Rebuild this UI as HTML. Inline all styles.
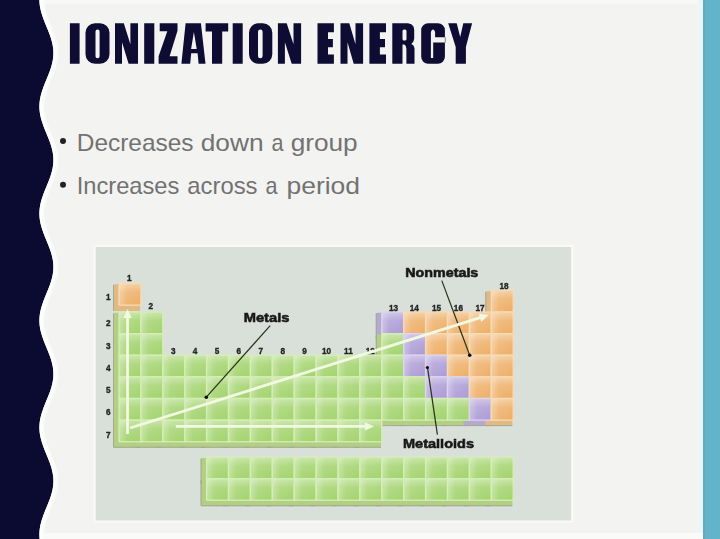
<!DOCTYPE html>
<html><head><meta charset="utf-8">
<style>
html,body{margin:0;padding:0;}
body{width:720px;height:539px;overflow:hidden;background:#f3f3f1;position:relative;}
svg{position:absolute;left:0;top:0;}
.t{font-family:"Liberation Sans",sans-serif;}
</style></head><body>
<svg width="720" height="539" viewBox="0 0 720 539">
<defs>
<filter id="soft" x="-5%" y="-5%" width="110%" height="110%"><feGaussianBlur stdDeviation="0.55"/></filter>
<linearGradient id="hly" x1="0" y1="0" x2="0" y2="1">
<stop offset="0" stop-color="#fff" stop-opacity="0.42"/><stop offset="0.4" stop-color="#fff" stop-opacity="0.12"/><stop offset="1" stop-color="#fff" stop-opacity="0"/>
</linearGradient>
<linearGradient id="hlx" x1="0" y1="0" x2="1" y2="0">
<stop offset="0" stop-color="#fff" stop-opacity="0.35"/><stop offset="0.35" stop-color="#fff" stop-opacity="0.08"/><stop offset="1" stop-color="#fff" stop-opacity="0"/>
</linearGradient>
<linearGradient id="gg" x1="0" y1="0" x2="0" y2="1">
<stop offset="0" stop-color="#9acb62"/><stop offset="0.55" stop-color="#c6e4a2"/><stop offset="1" stop-color="#a9d579"/>
</linearGradient>
<linearGradient id="go" x1="0" y1="0" x2="0" y2="1">
<stop offset="0" stop-color="#eaaa5e"/><stop offset="0.55" stop-color="#f6d2a2"/><stop offset="1" stop-color="#eeb774"/>
</linearGradient>
<linearGradient id="gp" x1="0" y1="0" x2="0" y2="1">
<stop offset="0" stop-color="#a896cc"/><stop offset="0.55" stop-color="#d2c8e6"/><stop offset="1" stop-color="#b2a4d4"/>
</linearGradient>
</defs>
<rect x="698.5" y="0" width="4.5" height="539" fill="#e9f7fa"/>
<rect x="0" y="533" width="720" height="6" fill="#fafaf8"/>
<rect x="0" y="0" width="697" height="4" fill="#f8f8f6"/>
<rect x="703" y="0" width="17" height="539" fill="#62b4ca"/>
<rect x="703" y="0" width="2" height="539" fill="#69a9b6"/>
<path d="M41.95,0.00 L41.96,0.50 L41.98,1.00 L42.00,1.50 L42.03,2.00 L42.06,2.50 L42.10,3.00 L42.14,3.50 L42.19,4.00 L42.25,4.50 L42.31,5.00 L42.38,5.50 L42.45,6.00 L42.53,6.50 L42.62,7.00 L42.71,7.50 L42.80,8.00 L42.91,8.50 L43.01,9.00 L43.12,9.50 L43.24,10.00 L43.36,10.50 L43.49,11.00 L43.62,11.50 L43.75,12.00 L43.89,12.50 L44.04,13.00 L44.19,13.50 L44.34,14.00 L44.49,14.50 L44.65,15.00 L44.82,15.50 L44.99,16.00 L45.16,16.50 L45.33,17.00 L45.51,17.50 L45.69,18.00 L45.87,18.50 L46.06,19.00 L46.25,19.50 L46.44,20.00 L46.63,20.50 L46.83,21.00 L47.02,21.50 L47.22,22.00 L47.42,22.50 L47.62,23.00 L47.82,23.50 L48.03,24.00 L48.23,24.50 L48.44,25.00 L48.64,25.50 L48.85,26.00 L49.05,26.50 L49.26,27.00 L49.46,27.50 L49.67,28.00 L49.87,28.50 L50.08,29.00 L50.28,29.50 L50.48,30.00 L50.68,30.50 L50.88,31.00 L51.07,31.50 L51.27,32.00 L51.46,32.50 L51.65,33.00 L51.84,33.50 L52.03,34.00 L52.21,34.50 L52.39,35.00 L52.57,35.50 L52.74,36.00 L52.91,36.50 L53.08,37.00 L53.25,37.50 L53.41,38.00 L53.56,38.50 L53.71,39.00 L53.86,39.50 L54.01,40.00 L54.15,40.50 L54.28,41.00 L54.41,41.50 L54.54,42.00 L54.66,42.50 L54.78,43.00 L54.89,43.50 L54.99,44.00 L55.10,44.50 L55.19,45.00 L55.28,45.50 L55.37,46.00 L55.45,46.50 L55.52,47.00 L55.59,47.50 L55.65,48.00 L55.71,48.50 L55.76,49.00 L55.80,49.50 L55.84,50.00 L55.87,50.50 L55.90,51.00 L55.92,51.50 L55.94,52.00 L55.95,52.50 L55.95,53.00 L55.95,53.50 L55.94,54.00 L55.92,54.50 L55.90,55.00 L55.87,55.50 L55.84,56.00 L55.80,56.50 L55.76,57.00 L55.71,57.50 L55.65,58.00 L55.59,58.50 L55.52,59.00 L55.45,59.50 L55.37,60.00 L55.28,60.50 L55.19,61.00 L55.10,61.50 L54.99,62.00 L54.89,62.50 L54.78,63.00 L54.66,63.50 L54.54,64.00 L54.41,64.50 L54.28,65.00 L54.15,65.50 L54.01,66.00 L53.86,66.50 L53.71,67.00 L53.56,67.50 L53.41,68.00 L53.25,68.50 L53.08,69.00 L52.91,69.50 L52.74,70.00 L52.57,70.50 L52.39,71.00 L52.21,71.50 L52.03,72.00 L51.84,72.50 L51.65,73.00 L51.46,73.50 L51.27,74.00 L51.07,74.50 L50.88,75.00 L50.68,75.50 L50.48,76.00 L50.28,76.50 L50.08,77.00 L49.87,77.50 L49.67,78.00 L49.46,78.50 L49.26,79.00 L49.05,79.50 L48.85,80.00 L48.64,80.50 L48.44,81.00 L48.23,81.50 L48.03,82.00 L47.82,82.50 L47.62,83.00 L47.42,83.50 L47.22,84.00 L47.02,84.50 L46.83,85.00 L46.63,85.50 L46.44,86.00 L46.25,86.50 L46.06,87.00 L45.87,87.50 L45.69,88.00 L45.51,88.50 L45.33,89.00 L45.16,89.50 L44.99,90.00 L44.82,90.50 L44.65,91.00 L44.49,91.50 L44.34,92.00 L44.19,92.50 L44.04,93.00 L43.89,93.50 L43.75,94.00 L43.62,94.50 L43.49,95.00 L43.36,95.50 L43.24,96.00 L43.12,96.50 L43.01,97.00 L42.91,97.50 L42.80,98.00 L42.71,98.50 L42.62,99.00 L42.53,99.50 L42.45,100.00 L42.38,100.50 L42.31,101.00 L42.25,101.50 L42.19,102.00 L42.14,102.50 L42.10,103.00 L42.06,103.50 L42.03,104.00 L42.00,104.50 L41.98,105.00 L41.96,105.50 L41.95,106.00 L41.95,106.50 L41.95,107.00 L41.96,107.50 L41.98,108.00 L42.00,108.50 L42.03,109.00 L42.06,109.50 L42.10,110.00 L42.14,110.50 L42.19,111.00 L42.25,111.50 L42.31,112.00 L42.38,112.50 L42.45,113.00 L42.53,113.50 L42.62,114.00 L42.71,114.50 L42.80,115.00 L42.91,115.50 L43.01,116.00 L43.12,116.50 L43.24,117.00 L43.36,117.50 L43.49,118.00 L43.62,118.50 L43.75,119.00 L43.89,119.50 L44.04,120.00 L44.19,120.50 L44.34,121.00 L44.49,121.50 L44.65,122.00 L44.82,122.50 L44.99,123.00 L45.16,123.50 L45.33,124.00 L45.51,124.50 L45.69,125.00 L45.87,125.50 L46.06,126.00 L46.25,126.50 L46.44,127.00 L46.63,127.50 L46.83,128.00 L47.02,128.50 L47.22,129.00 L47.42,129.50 L47.62,130.00 L47.82,130.50 L48.03,131.00 L48.23,131.50 L48.44,132.00 L48.64,132.50 L48.85,133.00 L49.05,133.50 L49.26,134.00 L49.46,134.50 L49.67,135.00 L49.87,135.50 L50.08,136.00 L50.28,136.50 L50.48,137.00 L50.68,137.50 L50.88,138.00 L51.07,138.50 L51.27,139.00 L51.46,139.50 L51.65,140.00 L51.84,140.50 L52.03,141.00 L52.21,141.50 L52.39,142.00 L52.57,142.50 L52.74,143.00 L52.91,143.50 L53.08,144.00 L53.25,144.50 L53.41,145.00 L53.56,145.50 L53.71,146.00 L53.86,146.50 L54.01,147.00 L54.15,147.50 L54.28,148.00 L54.41,148.50 L54.54,149.00 L54.66,149.50 L54.78,150.00 L54.89,150.50 L54.99,151.00 L55.10,151.50 L55.19,152.00 L55.28,152.50 L55.37,153.00 L55.45,153.50 L55.52,154.00 L55.59,154.50 L55.65,155.00 L55.71,155.50 L55.76,156.00 L55.80,156.50 L55.84,157.00 L55.87,157.50 L55.90,158.00 L55.92,158.50 L55.94,159.00 L55.95,159.50 L55.95,160.00 L55.95,160.50 L55.94,161.00 L55.92,161.50 L55.90,162.00 L55.87,162.50 L55.84,163.00 L55.80,163.50 L55.76,164.00 L55.71,164.50 L55.65,165.00 L55.59,165.50 L55.52,166.00 L55.45,166.50 L55.37,167.00 L55.28,167.50 L55.19,168.00 L55.10,168.50 L54.99,169.00 L54.89,169.50 L54.78,170.00 L54.66,170.50 L54.54,171.00 L54.41,171.50 L54.28,172.00 L54.15,172.50 L54.01,173.00 L53.86,173.50 L53.71,174.00 L53.56,174.50 L53.41,175.00 L53.25,175.50 L53.08,176.00 L52.91,176.50 L52.74,177.00 L52.57,177.50 L52.39,178.00 L52.21,178.50 L52.03,179.00 L51.84,179.50 L51.65,180.00 L51.46,180.50 L51.27,181.00 L51.07,181.50 L50.88,182.00 L50.68,182.50 L50.48,183.00 L50.28,183.50 L50.08,184.00 L49.87,184.50 L49.67,185.00 L49.46,185.50 L49.26,186.00 L49.05,186.50 L48.85,187.00 L48.64,187.50 L48.44,188.00 L48.23,188.50 L48.03,189.00 L47.82,189.50 L47.62,190.00 L47.42,190.50 L47.22,191.00 L47.02,191.50 L46.83,192.00 L46.63,192.50 L46.44,193.00 L46.25,193.50 L46.06,194.00 L45.87,194.50 L45.69,195.00 L45.51,195.50 L45.33,196.00 L45.16,196.50 L44.99,197.00 L44.82,197.50 L44.65,198.00 L44.49,198.50 L44.34,199.00 L44.19,199.50 L44.04,200.00 L43.89,200.50 L43.75,201.00 L43.62,201.50 L43.49,202.00 L43.36,202.50 L43.24,203.00 L43.12,203.50 L43.01,204.00 L42.91,204.50 L42.80,205.00 L42.71,205.50 L42.62,206.00 L42.53,206.50 L42.45,207.00 L42.38,207.50 L42.31,208.00 L42.25,208.50 L42.19,209.00 L42.14,209.50 L42.10,210.00 L42.06,210.50 L42.03,211.00 L42.00,211.50 L41.98,212.00 L41.96,212.50 L41.95,213.00 L41.95,213.50 L41.95,214.00 L41.96,214.50 L41.98,215.00 L42.00,215.50 L42.03,216.00 L42.06,216.50 L42.10,217.00 L42.14,217.50 L42.19,218.00 L42.25,218.50 L42.31,219.00 L42.38,219.50 L42.45,220.00 L42.53,220.50 L42.62,221.00 L42.71,221.50 L42.80,222.00 L42.91,222.50 L43.01,223.00 L43.12,223.50 L43.24,224.00 L43.36,224.50 L43.49,225.00 L43.62,225.50 L43.75,226.00 L43.89,226.50 L44.04,227.00 L44.19,227.50 L44.34,228.00 L44.49,228.50 L44.65,229.00 L44.82,229.50 L44.99,230.00 L45.16,230.50 L45.33,231.00 L45.51,231.50 L45.69,232.00 L45.87,232.50 L46.06,233.00 L46.25,233.50 L46.44,234.00 L46.63,234.50 L46.83,235.00 L47.02,235.50 L47.22,236.00 L47.42,236.50 L47.62,237.00 L47.82,237.50 L48.03,238.00 L48.23,238.50 L48.44,239.00 L48.64,239.50 L48.85,240.00 L49.05,240.50 L49.26,241.00 L49.46,241.50 L49.67,242.00 L49.87,242.50 L50.08,243.00 L50.28,243.50 L50.48,244.00 L50.68,244.50 L50.88,245.00 L51.07,245.50 L51.27,246.00 L51.46,246.50 L51.65,247.00 L51.84,247.50 L52.03,248.00 L52.21,248.50 L52.39,249.00 L52.57,249.50 L52.74,250.00 L52.91,250.50 L53.08,251.00 L53.25,251.50 L53.41,252.00 L53.56,252.50 L53.71,253.00 L53.86,253.50 L54.01,254.00 L54.15,254.50 L54.28,255.00 L54.41,255.50 L54.54,256.00 L54.66,256.50 L54.78,257.00 L54.89,257.50 L54.99,258.00 L55.10,258.50 L55.19,259.00 L55.28,259.50 L55.37,260.00 L55.45,260.50 L55.52,261.00 L55.59,261.50 L55.65,262.00 L55.71,262.50 L55.76,263.00 L55.80,263.50 L55.84,264.00 L55.87,264.50 L55.90,265.00 L55.92,265.50 L55.94,266.00 L55.95,266.50 L55.95,267.00 L55.95,267.50 L55.94,268.00 L55.92,268.50 L55.90,269.00 L55.87,269.50 L55.84,270.00 L55.80,270.50 L55.76,271.00 L55.71,271.50 L55.65,272.00 L55.59,272.50 L55.52,273.00 L55.45,273.50 L55.37,274.00 L55.28,274.50 L55.19,275.00 L55.10,275.50 L54.99,276.00 L54.89,276.50 L54.78,277.00 L54.66,277.50 L54.54,278.00 L54.41,278.50 L54.28,279.00 L54.15,279.50 L54.01,280.00 L53.86,280.50 L53.71,281.00 L53.56,281.50 L53.41,282.00 L53.25,282.50 L53.08,283.00 L52.91,283.50 L52.74,284.00 L52.57,284.50 L52.39,285.00 L52.21,285.50 L52.03,286.00 L51.84,286.50 L51.65,287.00 L51.46,287.50 L51.27,288.00 L51.07,288.50 L50.88,289.00 L50.68,289.50 L50.48,290.00 L50.28,290.50 L50.08,291.00 L49.87,291.50 L49.67,292.00 L49.46,292.50 L49.26,293.00 L49.05,293.50 L48.85,294.00 L48.64,294.50 L48.44,295.00 L48.23,295.50 L48.03,296.00 L47.82,296.50 L47.62,297.00 L47.42,297.50 L47.22,298.00 L47.02,298.50 L46.83,299.00 L46.63,299.50 L46.44,300.00 L46.25,300.50 L46.06,301.00 L45.87,301.50 L45.69,302.00 L45.51,302.50 L45.33,303.00 L45.16,303.50 L44.99,304.00 L44.82,304.50 L44.65,305.00 L44.49,305.50 L44.34,306.00 L44.19,306.50 L44.04,307.00 L43.89,307.50 L43.75,308.00 L43.62,308.50 L43.49,309.00 L43.36,309.50 L43.24,310.00 L43.12,310.50 L43.01,311.00 L42.91,311.50 L42.80,312.00 L42.71,312.50 L42.62,313.00 L42.53,313.50 L42.45,314.00 L42.38,314.50 L42.31,315.00 L42.25,315.50 L42.19,316.00 L42.14,316.50 L42.10,317.00 L42.06,317.50 L42.03,318.00 L42.00,318.50 L41.98,319.00 L41.96,319.50 L41.95,320.00 L41.95,320.50 L41.95,321.00 L41.96,321.50 L41.98,322.00 L42.00,322.50 L42.03,323.00 L42.06,323.50 L42.10,324.00 L42.14,324.50 L42.19,325.00 L42.25,325.50 L42.31,326.00 L42.38,326.50 L42.45,327.00 L42.53,327.50 L42.62,328.00 L42.71,328.50 L42.80,329.00 L42.91,329.50 L43.01,330.00 L43.12,330.50 L43.24,331.00 L43.36,331.50 L43.49,332.00 L43.62,332.50 L43.75,333.00 L43.89,333.50 L44.04,334.00 L44.19,334.50 L44.34,335.00 L44.49,335.50 L44.65,336.00 L44.82,336.50 L44.99,337.00 L45.16,337.50 L45.33,338.00 L45.51,338.50 L45.69,339.00 L45.87,339.50 L46.06,340.00 L46.25,340.50 L46.44,341.00 L46.63,341.50 L46.83,342.00 L47.02,342.50 L47.22,343.00 L47.42,343.50 L47.62,344.00 L47.82,344.50 L48.03,345.00 L48.23,345.50 L48.44,346.00 L48.64,346.50 L48.85,347.00 L49.05,347.50 L49.26,348.00 L49.46,348.50 L49.67,349.00 L49.87,349.50 L50.08,350.00 L50.28,350.50 L50.48,351.00 L50.68,351.50 L50.88,352.00 L51.07,352.50 L51.27,353.00 L51.46,353.50 L51.65,354.00 L51.84,354.50 L52.03,355.00 L52.21,355.50 L52.39,356.00 L52.57,356.50 L52.74,357.00 L52.91,357.50 L53.08,358.00 L53.25,358.50 L53.41,359.00 L53.56,359.50 L53.71,360.00 L53.86,360.50 L54.01,361.00 L54.15,361.50 L54.28,362.00 L54.41,362.50 L54.54,363.00 L54.66,363.50 L54.78,364.00 L54.89,364.50 L54.99,365.00 L55.10,365.50 L55.19,366.00 L55.28,366.50 L55.37,367.00 L55.45,367.50 L55.52,368.00 L55.59,368.50 L55.65,369.00 L55.71,369.50 L55.76,370.00 L55.80,370.50 L55.84,371.00 L55.87,371.50 L55.90,372.00 L55.92,372.50 L55.94,373.00 L55.95,373.50 L55.95,374.00 L55.95,374.50 L55.94,375.00 L55.92,375.50 L55.90,376.00 L55.87,376.50 L55.84,377.00 L55.80,377.50 L55.76,378.00 L55.71,378.50 L55.65,379.00 L55.59,379.50 L55.52,380.00 L55.45,380.50 L55.37,381.00 L55.28,381.50 L55.19,382.00 L55.10,382.50 L54.99,383.00 L54.89,383.50 L54.78,384.00 L54.66,384.50 L54.54,385.00 L54.41,385.50 L54.28,386.00 L54.15,386.50 L54.01,387.00 L53.86,387.50 L53.71,388.00 L53.56,388.50 L53.41,389.00 L53.25,389.50 L53.08,390.00 L52.91,390.50 L52.74,391.00 L52.57,391.50 L52.39,392.00 L52.21,392.50 L52.03,393.00 L51.84,393.50 L51.65,394.00 L51.46,394.50 L51.27,395.00 L51.07,395.50 L50.88,396.00 L50.68,396.50 L50.48,397.00 L50.28,397.50 L50.08,398.00 L49.87,398.50 L49.67,399.00 L49.46,399.50 L49.26,400.00 L49.05,400.50 L48.85,401.00 L48.64,401.50 L48.44,402.00 L48.23,402.50 L48.03,403.00 L47.82,403.50 L47.62,404.00 L47.42,404.50 L47.22,405.00 L47.02,405.50 L46.83,406.00 L46.63,406.50 L46.44,407.00 L46.25,407.50 L46.06,408.00 L45.87,408.50 L45.69,409.00 L45.51,409.50 L45.33,410.00 L45.16,410.50 L44.99,411.00 L44.82,411.50 L44.65,412.00 L44.49,412.50 L44.34,413.00 L44.19,413.50 L44.04,414.00 L43.89,414.50 L43.75,415.00 L43.62,415.50 L43.49,416.00 L43.36,416.50 L43.24,417.00 L43.12,417.50 L43.01,418.00 L42.91,418.50 L42.80,419.00 L42.71,419.50 L42.62,420.00 L42.53,420.50 L42.45,421.00 L42.38,421.50 L42.31,422.00 L42.25,422.50 L42.19,423.00 L42.14,423.50 L42.10,424.00 L42.06,424.50 L42.03,425.00 L42.00,425.50 L41.98,426.00 L41.96,426.50 L41.95,427.00 L41.95,427.50 L41.95,428.00 L41.96,428.50 L41.98,429.00 L42.00,429.50 L42.03,430.00 L42.06,430.50 L42.10,431.00 L42.14,431.50 L42.19,432.00 L42.25,432.50 L42.31,433.00 L42.38,433.50 L42.45,434.00 L42.53,434.50 L42.62,435.00 L42.71,435.50 L42.80,436.00 L42.91,436.50 L43.01,437.00 L43.12,437.50 L43.24,438.00 L43.36,438.50 L43.49,439.00 L43.62,439.50 L43.75,440.00 L43.89,440.50 L44.04,441.00 L44.19,441.50 L44.34,442.00 L44.49,442.50 L44.65,443.00 L44.82,443.50 L44.99,444.00 L45.16,444.50 L45.33,445.00 L45.51,445.50 L45.69,446.00 L45.87,446.50 L46.06,447.00 L46.25,447.50 L46.44,448.00 L46.63,448.50 L46.83,449.00 L47.02,449.50 L47.22,450.00 L47.42,450.50 L47.62,451.00 L47.82,451.50 L48.03,452.00 L48.23,452.50 L48.44,453.00 L48.64,453.50 L48.85,454.00 L49.05,454.50 L49.26,455.00 L49.46,455.50 L49.67,456.00 L49.87,456.50 L50.08,457.00 L50.28,457.50 L50.48,458.00 L50.68,458.50 L50.88,459.00 L51.07,459.50 L51.27,460.00 L51.46,460.50 L51.65,461.00 L51.84,461.50 L52.03,462.00 L52.21,462.50 L52.39,463.00 L52.57,463.50 L52.74,464.00 L52.91,464.50 L53.08,465.00 L53.25,465.50 L53.41,466.00 L53.56,466.50 L53.71,467.00 L53.86,467.50 L54.01,468.00 L54.15,468.50 L54.28,469.00 L54.41,469.50 L54.54,470.00 L54.66,470.50 L54.78,471.00 L54.89,471.50 L54.99,472.00 L55.10,472.50 L55.19,473.00 L55.28,473.50 L55.37,474.00 L55.45,474.50 L55.52,475.00 L55.59,475.50 L55.65,476.00 L55.71,476.50 L55.76,477.00 L55.80,477.50 L55.84,478.00 L55.87,478.50 L55.90,479.00 L55.92,479.50 L55.94,480.00 L55.95,480.50 L55.95,481.00 L55.95,481.50 L55.94,482.00 L55.92,482.50 L55.90,483.00 L55.87,483.50 L55.84,484.00 L55.80,484.50 L55.76,485.00 L55.71,485.50 L55.65,486.00 L55.59,486.50 L55.52,487.00 L55.45,487.50 L55.37,488.00 L55.28,488.50 L55.19,489.00 L55.10,489.50 L54.99,490.00 L54.89,490.50 L54.78,491.00 L54.66,491.50 L54.54,492.00 L54.41,492.50 L54.28,493.00 L54.15,493.50 L54.01,494.00 L53.86,494.50 L53.71,495.00 L53.56,495.50 L53.41,496.00 L53.25,496.50 L53.08,497.00 L52.91,497.50 L52.74,498.00 L52.57,498.50 L52.39,499.00 L52.21,499.50 L52.03,500.00 L51.84,500.50 L51.65,501.00 L51.46,501.50 L51.27,502.00 L51.07,502.50 L50.88,503.00 L50.68,503.50 L50.48,504.00 L50.28,504.50 L50.08,505.00 L49.87,505.50 L49.67,506.00 L49.46,506.50 L49.26,507.00 L49.05,507.50 L48.85,508.00 L48.64,508.50 L48.44,509.00 L48.23,509.50 L48.03,510.00 L47.82,510.50 L47.62,511.00 L47.42,511.50 L47.22,512.00 L47.02,512.50 L46.83,513.00 L46.63,513.50 L46.44,514.00 L46.25,514.50 L46.06,515.00 L45.87,515.50 L45.69,516.00 L45.51,516.50 L45.33,517.00 L45.16,517.50 L44.99,518.00 L44.82,518.50 L44.65,519.00 L44.49,519.50 L44.34,520.00 L44.19,520.50 L44.04,521.00 L43.89,521.50 L43.75,522.00 L43.62,522.50 L43.49,523.00 L43.36,523.50 L43.24,524.00 L43.12,524.50 L43.01,525.00 L42.91,525.50 L42.80,526.00 L42.71,526.50 L42.62,527.00 L42.53,527.50 L42.45,528.00 L42.38,528.50 L42.31,529.00 L42.25,529.50 L42.19,530.00 L42.14,530.50 L42.10,531.00 L42.06,531.50 L42.03,532.00 L42.00,532.50 L41.98,533.00 L41.96,533.50 L41.95,534.00 L41.95,534.50 L41.95,535.00 L41.96,535.50 L41.98,536.00 L42.00,536.50 L42.03,537.00 L42.06,537.50 L42.10,538.00 L42.14,538.50 L42.19,539.00" fill="none" stroke="#fbfcfd" stroke-width="4.5" opacity="0.8"/>
<path d="M0,0 L39.35,0.00 L39.36,0.50 L39.38,1.00 L39.40,1.50 L39.43,2.00 L39.46,2.50 L39.50,3.00 L39.54,3.50 L39.59,4.00 L39.65,4.50 L39.71,5.00 L39.78,5.50 L39.85,6.00 L39.93,6.50 L40.02,7.00 L40.11,7.50 L40.20,8.00 L40.31,8.50 L40.41,9.00 L40.52,9.50 L40.64,10.00 L40.76,10.50 L40.89,11.00 L41.02,11.50 L41.15,12.00 L41.29,12.50 L41.44,13.00 L41.59,13.50 L41.74,14.00 L41.89,14.50 L42.05,15.00 L42.22,15.50 L42.39,16.00 L42.56,16.50 L42.73,17.00 L42.91,17.50 L43.09,18.00 L43.27,18.50 L43.46,19.00 L43.65,19.50 L43.84,20.00 L44.03,20.50 L44.23,21.00 L44.42,21.50 L44.62,22.00 L44.82,22.50 L45.02,23.00 L45.22,23.50 L45.43,24.00 L45.63,24.50 L45.84,25.00 L46.04,25.50 L46.25,26.00 L46.45,26.50 L46.66,27.00 L46.86,27.50 L47.07,28.00 L47.27,28.50 L47.48,29.00 L47.68,29.50 L47.88,30.00 L48.08,30.50 L48.28,31.00 L48.47,31.50 L48.67,32.00 L48.86,32.50 L49.05,33.00 L49.24,33.50 L49.43,34.00 L49.61,34.50 L49.79,35.00 L49.97,35.50 L50.14,36.00 L50.31,36.50 L50.48,37.00 L50.65,37.50 L50.81,38.00 L50.96,38.50 L51.11,39.00 L51.26,39.50 L51.41,40.00 L51.55,40.50 L51.68,41.00 L51.81,41.50 L51.94,42.00 L52.06,42.50 L52.18,43.00 L52.29,43.50 L52.39,44.00 L52.50,44.50 L52.59,45.00 L52.68,45.50 L52.77,46.00 L52.85,46.50 L52.92,47.00 L52.99,47.50 L53.05,48.00 L53.11,48.50 L53.16,49.00 L53.20,49.50 L53.24,50.00 L53.27,50.50 L53.30,51.00 L53.32,51.50 L53.34,52.00 L53.35,52.50 L53.35,53.00 L53.35,53.50 L53.34,54.00 L53.32,54.50 L53.30,55.00 L53.27,55.50 L53.24,56.00 L53.20,56.50 L53.16,57.00 L53.11,57.50 L53.05,58.00 L52.99,58.50 L52.92,59.00 L52.85,59.50 L52.77,60.00 L52.68,60.50 L52.59,61.00 L52.50,61.50 L52.39,62.00 L52.29,62.50 L52.18,63.00 L52.06,63.50 L51.94,64.00 L51.81,64.50 L51.68,65.00 L51.55,65.50 L51.41,66.00 L51.26,66.50 L51.11,67.00 L50.96,67.50 L50.81,68.00 L50.65,68.50 L50.48,69.00 L50.31,69.50 L50.14,70.00 L49.97,70.50 L49.79,71.00 L49.61,71.50 L49.43,72.00 L49.24,72.50 L49.05,73.00 L48.86,73.50 L48.67,74.00 L48.47,74.50 L48.28,75.00 L48.08,75.50 L47.88,76.00 L47.68,76.50 L47.48,77.00 L47.27,77.50 L47.07,78.00 L46.86,78.50 L46.66,79.00 L46.45,79.50 L46.25,80.00 L46.04,80.50 L45.84,81.00 L45.63,81.50 L45.43,82.00 L45.22,82.50 L45.02,83.00 L44.82,83.50 L44.62,84.00 L44.42,84.50 L44.23,85.00 L44.03,85.50 L43.84,86.00 L43.65,86.50 L43.46,87.00 L43.27,87.50 L43.09,88.00 L42.91,88.50 L42.73,89.00 L42.56,89.50 L42.39,90.00 L42.22,90.50 L42.05,91.00 L41.89,91.50 L41.74,92.00 L41.59,92.50 L41.44,93.00 L41.29,93.50 L41.15,94.00 L41.02,94.50 L40.89,95.00 L40.76,95.50 L40.64,96.00 L40.52,96.50 L40.41,97.00 L40.31,97.50 L40.20,98.00 L40.11,98.50 L40.02,99.00 L39.93,99.50 L39.85,100.00 L39.78,100.50 L39.71,101.00 L39.65,101.50 L39.59,102.00 L39.54,102.50 L39.50,103.00 L39.46,103.50 L39.43,104.00 L39.40,104.50 L39.38,105.00 L39.36,105.50 L39.35,106.00 L39.35,106.50 L39.35,107.00 L39.36,107.50 L39.38,108.00 L39.40,108.50 L39.43,109.00 L39.46,109.50 L39.50,110.00 L39.54,110.50 L39.59,111.00 L39.65,111.50 L39.71,112.00 L39.78,112.50 L39.85,113.00 L39.93,113.50 L40.02,114.00 L40.11,114.50 L40.20,115.00 L40.31,115.50 L40.41,116.00 L40.52,116.50 L40.64,117.00 L40.76,117.50 L40.89,118.00 L41.02,118.50 L41.15,119.00 L41.29,119.50 L41.44,120.00 L41.59,120.50 L41.74,121.00 L41.89,121.50 L42.05,122.00 L42.22,122.50 L42.39,123.00 L42.56,123.50 L42.73,124.00 L42.91,124.50 L43.09,125.00 L43.27,125.50 L43.46,126.00 L43.65,126.50 L43.84,127.00 L44.03,127.50 L44.23,128.00 L44.42,128.50 L44.62,129.00 L44.82,129.50 L45.02,130.00 L45.22,130.50 L45.43,131.00 L45.63,131.50 L45.84,132.00 L46.04,132.50 L46.25,133.00 L46.45,133.50 L46.66,134.00 L46.86,134.50 L47.07,135.00 L47.27,135.50 L47.48,136.00 L47.68,136.50 L47.88,137.00 L48.08,137.50 L48.28,138.00 L48.47,138.50 L48.67,139.00 L48.86,139.50 L49.05,140.00 L49.24,140.50 L49.43,141.00 L49.61,141.50 L49.79,142.00 L49.97,142.50 L50.14,143.00 L50.31,143.50 L50.48,144.00 L50.65,144.50 L50.81,145.00 L50.96,145.50 L51.11,146.00 L51.26,146.50 L51.41,147.00 L51.55,147.50 L51.68,148.00 L51.81,148.50 L51.94,149.00 L52.06,149.50 L52.18,150.00 L52.29,150.50 L52.39,151.00 L52.50,151.50 L52.59,152.00 L52.68,152.50 L52.77,153.00 L52.85,153.50 L52.92,154.00 L52.99,154.50 L53.05,155.00 L53.11,155.50 L53.16,156.00 L53.20,156.50 L53.24,157.00 L53.27,157.50 L53.30,158.00 L53.32,158.50 L53.34,159.00 L53.35,159.50 L53.35,160.00 L53.35,160.50 L53.34,161.00 L53.32,161.50 L53.30,162.00 L53.27,162.50 L53.24,163.00 L53.20,163.50 L53.16,164.00 L53.11,164.50 L53.05,165.00 L52.99,165.50 L52.92,166.00 L52.85,166.50 L52.77,167.00 L52.68,167.50 L52.59,168.00 L52.50,168.50 L52.39,169.00 L52.29,169.50 L52.18,170.00 L52.06,170.50 L51.94,171.00 L51.81,171.50 L51.68,172.00 L51.55,172.50 L51.41,173.00 L51.26,173.50 L51.11,174.00 L50.96,174.50 L50.81,175.00 L50.65,175.50 L50.48,176.00 L50.31,176.50 L50.14,177.00 L49.97,177.50 L49.79,178.00 L49.61,178.50 L49.43,179.00 L49.24,179.50 L49.05,180.00 L48.86,180.50 L48.67,181.00 L48.47,181.50 L48.28,182.00 L48.08,182.50 L47.88,183.00 L47.68,183.50 L47.48,184.00 L47.27,184.50 L47.07,185.00 L46.86,185.50 L46.66,186.00 L46.45,186.50 L46.25,187.00 L46.04,187.50 L45.84,188.00 L45.63,188.50 L45.43,189.00 L45.22,189.50 L45.02,190.00 L44.82,190.50 L44.62,191.00 L44.42,191.50 L44.23,192.00 L44.03,192.50 L43.84,193.00 L43.65,193.50 L43.46,194.00 L43.27,194.50 L43.09,195.00 L42.91,195.50 L42.73,196.00 L42.56,196.50 L42.39,197.00 L42.22,197.50 L42.05,198.00 L41.89,198.50 L41.74,199.00 L41.59,199.50 L41.44,200.00 L41.29,200.50 L41.15,201.00 L41.02,201.50 L40.89,202.00 L40.76,202.50 L40.64,203.00 L40.52,203.50 L40.41,204.00 L40.31,204.50 L40.20,205.00 L40.11,205.50 L40.02,206.00 L39.93,206.50 L39.85,207.00 L39.78,207.50 L39.71,208.00 L39.65,208.50 L39.59,209.00 L39.54,209.50 L39.50,210.00 L39.46,210.50 L39.43,211.00 L39.40,211.50 L39.38,212.00 L39.36,212.50 L39.35,213.00 L39.35,213.50 L39.35,214.00 L39.36,214.50 L39.38,215.00 L39.40,215.50 L39.43,216.00 L39.46,216.50 L39.50,217.00 L39.54,217.50 L39.59,218.00 L39.65,218.50 L39.71,219.00 L39.78,219.50 L39.85,220.00 L39.93,220.50 L40.02,221.00 L40.11,221.50 L40.20,222.00 L40.31,222.50 L40.41,223.00 L40.52,223.50 L40.64,224.00 L40.76,224.50 L40.89,225.00 L41.02,225.50 L41.15,226.00 L41.29,226.50 L41.44,227.00 L41.59,227.50 L41.74,228.00 L41.89,228.50 L42.05,229.00 L42.22,229.50 L42.39,230.00 L42.56,230.50 L42.73,231.00 L42.91,231.50 L43.09,232.00 L43.27,232.50 L43.46,233.00 L43.65,233.50 L43.84,234.00 L44.03,234.50 L44.23,235.00 L44.42,235.50 L44.62,236.00 L44.82,236.50 L45.02,237.00 L45.22,237.50 L45.43,238.00 L45.63,238.50 L45.84,239.00 L46.04,239.50 L46.25,240.00 L46.45,240.50 L46.66,241.00 L46.86,241.50 L47.07,242.00 L47.27,242.50 L47.48,243.00 L47.68,243.50 L47.88,244.00 L48.08,244.50 L48.28,245.00 L48.47,245.50 L48.67,246.00 L48.86,246.50 L49.05,247.00 L49.24,247.50 L49.43,248.00 L49.61,248.50 L49.79,249.00 L49.97,249.50 L50.14,250.00 L50.31,250.50 L50.48,251.00 L50.65,251.50 L50.81,252.00 L50.96,252.50 L51.11,253.00 L51.26,253.50 L51.41,254.00 L51.55,254.50 L51.68,255.00 L51.81,255.50 L51.94,256.00 L52.06,256.50 L52.18,257.00 L52.29,257.50 L52.39,258.00 L52.50,258.50 L52.59,259.00 L52.68,259.50 L52.77,260.00 L52.85,260.50 L52.92,261.00 L52.99,261.50 L53.05,262.00 L53.11,262.50 L53.16,263.00 L53.20,263.50 L53.24,264.00 L53.27,264.50 L53.30,265.00 L53.32,265.50 L53.34,266.00 L53.35,266.50 L53.35,267.00 L53.35,267.50 L53.34,268.00 L53.32,268.50 L53.30,269.00 L53.27,269.50 L53.24,270.00 L53.20,270.50 L53.16,271.00 L53.11,271.50 L53.05,272.00 L52.99,272.50 L52.92,273.00 L52.85,273.50 L52.77,274.00 L52.68,274.50 L52.59,275.00 L52.50,275.50 L52.39,276.00 L52.29,276.50 L52.18,277.00 L52.06,277.50 L51.94,278.00 L51.81,278.50 L51.68,279.00 L51.55,279.50 L51.41,280.00 L51.26,280.50 L51.11,281.00 L50.96,281.50 L50.81,282.00 L50.65,282.50 L50.48,283.00 L50.31,283.50 L50.14,284.00 L49.97,284.50 L49.79,285.00 L49.61,285.50 L49.43,286.00 L49.24,286.50 L49.05,287.00 L48.86,287.50 L48.67,288.00 L48.47,288.50 L48.28,289.00 L48.08,289.50 L47.88,290.00 L47.68,290.50 L47.48,291.00 L47.27,291.50 L47.07,292.00 L46.86,292.50 L46.66,293.00 L46.45,293.50 L46.25,294.00 L46.04,294.50 L45.84,295.00 L45.63,295.50 L45.43,296.00 L45.22,296.50 L45.02,297.00 L44.82,297.50 L44.62,298.00 L44.42,298.50 L44.23,299.00 L44.03,299.50 L43.84,300.00 L43.65,300.50 L43.46,301.00 L43.27,301.50 L43.09,302.00 L42.91,302.50 L42.73,303.00 L42.56,303.50 L42.39,304.00 L42.22,304.50 L42.05,305.00 L41.89,305.50 L41.74,306.00 L41.59,306.50 L41.44,307.00 L41.29,307.50 L41.15,308.00 L41.02,308.50 L40.89,309.00 L40.76,309.50 L40.64,310.00 L40.52,310.50 L40.41,311.00 L40.31,311.50 L40.20,312.00 L40.11,312.50 L40.02,313.00 L39.93,313.50 L39.85,314.00 L39.78,314.50 L39.71,315.00 L39.65,315.50 L39.59,316.00 L39.54,316.50 L39.50,317.00 L39.46,317.50 L39.43,318.00 L39.40,318.50 L39.38,319.00 L39.36,319.50 L39.35,320.00 L39.35,320.50 L39.35,321.00 L39.36,321.50 L39.38,322.00 L39.40,322.50 L39.43,323.00 L39.46,323.50 L39.50,324.00 L39.54,324.50 L39.59,325.00 L39.65,325.50 L39.71,326.00 L39.78,326.50 L39.85,327.00 L39.93,327.50 L40.02,328.00 L40.11,328.50 L40.20,329.00 L40.31,329.50 L40.41,330.00 L40.52,330.50 L40.64,331.00 L40.76,331.50 L40.89,332.00 L41.02,332.50 L41.15,333.00 L41.29,333.50 L41.44,334.00 L41.59,334.50 L41.74,335.00 L41.89,335.50 L42.05,336.00 L42.22,336.50 L42.39,337.00 L42.56,337.50 L42.73,338.00 L42.91,338.50 L43.09,339.00 L43.27,339.50 L43.46,340.00 L43.65,340.50 L43.84,341.00 L44.03,341.50 L44.23,342.00 L44.42,342.50 L44.62,343.00 L44.82,343.50 L45.02,344.00 L45.22,344.50 L45.43,345.00 L45.63,345.50 L45.84,346.00 L46.04,346.50 L46.25,347.00 L46.45,347.50 L46.66,348.00 L46.86,348.50 L47.07,349.00 L47.27,349.50 L47.48,350.00 L47.68,350.50 L47.88,351.00 L48.08,351.50 L48.28,352.00 L48.47,352.50 L48.67,353.00 L48.86,353.50 L49.05,354.00 L49.24,354.50 L49.43,355.00 L49.61,355.50 L49.79,356.00 L49.97,356.50 L50.14,357.00 L50.31,357.50 L50.48,358.00 L50.65,358.50 L50.81,359.00 L50.96,359.50 L51.11,360.00 L51.26,360.50 L51.41,361.00 L51.55,361.50 L51.68,362.00 L51.81,362.50 L51.94,363.00 L52.06,363.50 L52.18,364.00 L52.29,364.50 L52.39,365.00 L52.50,365.50 L52.59,366.00 L52.68,366.50 L52.77,367.00 L52.85,367.50 L52.92,368.00 L52.99,368.50 L53.05,369.00 L53.11,369.50 L53.16,370.00 L53.20,370.50 L53.24,371.00 L53.27,371.50 L53.30,372.00 L53.32,372.50 L53.34,373.00 L53.35,373.50 L53.35,374.00 L53.35,374.50 L53.34,375.00 L53.32,375.50 L53.30,376.00 L53.27,376.50 L53.24,377.00 L53.20,377.50 L53.16,378.00 L53.11,378.50 L53.05,379.00 L52.99,379.50 L52.92,380.00 L52.85,380.50 L52.77,381.00 L52.68,381.50 L52.59,382.00 L52.50,382.50 L52.39,383.00 L52.29,383.50 L52.18,384.00 L52.06,384.50 L51.94,385.00 L51.81,385.50 L51.68,386.00 L51.55,386.50 L51.41,387.00 L51.26,387.50 L51.11,388.00 L50.96,388.50 L50.81,389.00 L50.65,389.50 L50.48,390.00 L50.31,390.50 L50.14,391.00 L49.97,391.50 L49.79,392.00 L49.61,392.50 L49.43,393.00 L49.24,393.50 L49.05,394.00 L48.86,394.50 L48.67,395.00 L48.47,395.50 L48.28,396.00 L48.08,396.50 L47.88,397.00 L47.68,397.50 L47.48,398.00 L47.27,398.50 L47.07,399.00 L46.86,399.50 L46.66,400.00 L46.45,400.50 L46.25,401.00 L46.04,401.50 L45.84,402.00 L45.63,402.50 L45.43,403.00 L45.22,403.50 L45.02,404.00 L44.82,404.50 L44.62,405.00 L44.42,405.50 L44.23,406.00 L44.03,406.50 L43.84,407.00 L43.65,407.50 L43.46,408.00 L43.27,408.50 L43.09,409.00 L42.91,409.50 L42.73,410.00 L42.56,410.50 L42.39,411.00 L42.22,411.50 L42.05,412.00 L41.89,412.50 L41.74,413.00 L41.59,413.50 L41.44,414.00 L41.29,414.50 L41.15,415.00 L41.02,415.50 L40.89,416.00 L40.76,416.50 L40.64,417.00 L40.52,417.50 L40.41,418.00 L40.31,418.50 L40.20,419.00 L40.11,419.50 L40.02,420.00 L39.93,420.50 L39.85,421.00 L39.78,421.50 L39.71,422.00 L39.65,422.50 L39.59,423.00 L39.54,423.50 L39.50,424.00 L39.46,424.50 L39.43,425.00 L39.40,425.50 L39.38,426.00 L39.36,426.50 L39.35,427.00 L39.35,427.50 L39.35,428.00 L39.36,428.50 L39.38,429.00 L39.40,429.50 L39.43,430.00 L39.46,430.50 L39.50,431.00 L39.54,431.50 L39.59,432.00 L39.65,432.50 L39.71,433.00 L39.78,433.50 L39.85,434.00 L39.93,434.50 L40.02,435.00 L40.11,435.50 L40.20,436.00 L40.31,436.50 L40.41,437.00 L40.52,437.50 L40.64,438.00 L40.76,438.50 L40.89,439.00 L41.02,439.50 L41.15,440.00 L41.29,440.50 L41.44,441.00 L41.59,441.50 L41.74,442.00 L41.89,442.50 L42.05,443.00 L42.22,443.50 L42.39,444.00 L42.56,444.50 L42.73,445.00 L42.91,445.50 L43.09,446.00 L43.27,446.50 L43.46,447.00 L43.65,447.50 L43.84,448.00 L44.03,448.50 L44.23,449.00 L44.42,449.50 L44.62,450.00 L44.82,450.50 L45.02,451.00 L45.22,451.50 L45.43,452.00 L45.63,452.50 L45.84,453.00 L46.04,453.50 L46.25,454.00 L46.45,454.50 L46.66,455.00 L46.86,455.50 L47.07,456.00 L47.27,456.50 L47.48,457.00 L47.68,457.50 L47.88,458.00 L48.08,458.50 L48.28,459.00 L48.47,459.50 L48.67,460.00 L48.86,460.50 L49.05,461.00 L49.24,461.50 L49.43,462.00 L49.61,462.50 L49.79,463.00 L49.97,463.50 L50.14,464.00 L50.31,464.50 L50.48,465.00 L50.65,465.50 L50.81,466.00 L50.96,466.50 L51.11,467.00 L51.26,467.50 L51.41,468.00 L51.55,468.50 L51.68,469.00 L51.81,469.50 L51.94,470.00 L52.06,470.50 L52.18,471.00 L52.29,471.50 L52.39,472.00 L52.50,472.50 L52.59,473.00 L52.68,473.50 L52.77,474.00 L52.85,474.50 L52.92,475.00 L52.99,475.50 L53.05,476.00 L53.11,476.50 L53.16,477.00 L53.20,477.50 L53.24,478.00 L53.27,478.50 L53.30,479.00 L53.32,479.50 L53.34,480.00 L53.35,480.50 L53.35,481.00 L53.35,481.50 L53.34,482.00 L53.32,482.50 L53.30,483.00 L53.27,483.50 L53.24,484.00 L53.20,484.50 L53.16,485.00 L53.11,485.50 L53.05,486.00 L52.99,486.50 L52.92,487.00 L52.85,487.50 L52.77,488.00 L52.68,488.50 L52.59,489.00 L52.50,489.50 L52.39,490.00 L52.29,490.50 L52.18,491.00 L52.06,491.50 L51.94,492.00 L51.81,492.50 L51.68,493.00 L51.55,493.50 L51.41,494.00 L51.26,494.50 L51.11,495.00 L50.96,495.50 L50.81,496.00 L50.65,496.50 L50.48,497.00 L50.31,497.50 L50.14,498.00 L49.97,498.50 L49.79,499.00 L49.61,499.50 L49.43,500.00 L49.24,500.50 L49.05,501.00 L48.86,501.50 L48.67,502.00 L48.47,502.50 L48.28,503.00 L48.08,503.50 L47.88,504.00 L47.68,504.50 L47.48,505.00 L47.27,505.50 L47.07,506.00 L46.86,506.50 L46.66,507.00 L46.45,507.50 L46.25,508.00 L46.04,508.50 L45.84,509.00 L45.63,509.50 L45.43,510.00 L45.22,510.50 L45.02,511.00 L44.82,511.50 L44.62,512.00 L44.42,512.50 L44.23,513.00 L44.03,513.50 L43.84,514.00 L43.65,514.50 L43.46,515.00 L43.27,515.50 L43.09,516.00 L42.91,516.50 L42.73,517.00 L42.56,517.50 L42.39,518.00 L42.22,518.50 L42.05,519.00 L41.89,519.50 L41.74,520.00 L41.59,520.50 L41.44,521.00 L41.29,521.50 L41.15,522.00 L41.02,522.50 L40.89,523.00 L40.76,523.50 L40.64,524.00 L40.52,524.50 L40.41,525.00 L40.31,525.50 L40.20,526.00 L40.11,526.50 L40.02,527.00 L39.93,527.50 L39.85,528.00 L39.78,528.50 L39.71,529.00 L39.65,529.50 L39.59,530.00 L39.54,530.50 L39.50,531.00 L39.46,531.50 L39.43,532.00 L39.40,532.50 L39.38,533.00 L39.36,533.50 L39.35,534.00 L39.35,534.50 L39.35,535.00 L39.36,535.50 L39.38,536.00 L39.40,536.50 L39.43,537.00 L39.46,537.50 L39.50,538.00 L39.54,538.50 L39.59,539.00 L0,539 Z" fill="#0b0a30"/>
<path d="M40.55,0.00 L40.56,0.50 L40.58,1.00 L40.60,1.50 L40.63,2.00 L40.66,2.50 L40.70,3.00 L40.74,3.50 L40.79,4.00 L40.85,4.50 L40.91,5.00 L40.98,5.50 L41.05,6.00 L41.13,6.50 L41.22,7.00 L41.31,7.50 L41.40,8.00 L41.51,8.50 L41.61,9.00 L41.72,9.50 L41.84,10.00 L41.96,10.50 L42.09,11.00 L42.22,11.50 L42.35,12.00 L42.49,12.50 L42.64,13.00 L42.79,13.50 L42.94,14.00 L43.09,14.50 L43.25,15.00 L43.42,15.50 L43.59,16.00 L43.76,16.50 L43.93,17.00 L44.11,17.50 L44.29,18.00 L44.47,18.50 L44.66,19.00 L44.85,19.50 L45.04,20.00 L45.23,20.50 L45.43,21.00 L45.62,21.50 L45.82,22.00 L46.02,22.50 L46.22,23.00 L46.42,23.50 L46.63,24.00 L46.83,24.50 L47.04,25.00 L47.24,25.50 L47.45,26.00 L47.65,26.50 L47.86,27.00 L48.06,27.50 L48.27,28.00 L48.47,28.50 L48.68,29.00 L48.88,29.50 L49.08,30.00 L49.28,30.50 L49.48,31.00 L49.67,31.50 L49.87,32.00 L50.06,32.50 L50.25,33.00 L50.44,33.50 L50.63,34.00 L50.81,34.50 L50.99,35.00 L51.17,35.50 L51.34,36.00 L51.51,36.50 L51.68,37.00 L51.85,37.50 L52.01,38.00 L52.16,38.50 L52.31,39.00 L52.46,39.50 L52.61,40.00 L52.75,40.50 L52.88,41.00 L53.01,41.50 L53.14,42.00 L53.26,42.50 L53.38,43.00 L53.49,43.50 L53.59,44.00 L53.70,44.50 L53.79,45.00 L53.88,45.50 L53.97,46.00 L54.05,46.50 L54.12,47.00 L54.19,47.50 L54.25,48.00 L54.31,48.50 L54.36,49.00 L54.40,49.50 L54.44,50.00 L54.47,50.50 L54.50,51.00 L54.52,51.50 L54.54,52.00 L54.55,52.50 L54.55,53.00 L54.55,53.50 L54.54,54.00 L54.52,54.50 L54.50,55.00 L54.47,55.50 L54.44,56.00 L54.40,56.50 L54.36,57.00 L54.31,57.50 L54.25,58.00 L54.19,58.50 L54.12,59.00 L54.05,59.50 L53.97,60.00 L53.88,60.50 L53.79,61.00 L53.70,61.50 L53.59,62.00 L53.49,62.50 L53.38,63.00 L53.26,63.50 L53.14,64.00 L53.01,64.50 L52.88,65.00 L52.75,65.50 L52.61,66.00 L52.46,66.50 L52.31,67.00 L52.16,67.50 L52.01,68.00 L51.85,68.50 L51.68,69.00 L51.51,69.50 L51.34,70.00 L51.17,70.50 L50.99,71.00 L50.81,71.50 L50.63,72.00 L50.44,72.50 L50.25,73.00 L50.06,73.50 L49.87,74.00 L49.67,74.50 L49.48,75.00 L49.28,75.50 L49.08,76.00 L48.88,76.50 L48.68,77.00 L48.47,77.50 L48.27,78.00 L48.06,78.50 L47.86,79.00 L47.65,79.50 L47.45,80.00 L47.24,80.50 L47.04,81.00 L46.83,81.50 L46.63,82.00 L46.42,82.50 L46.22,83.00 L46.02,83.50 L45.82,84.00 L45.62,84.50 L45.43,85.00 L45.23,85.50 L45.04,86.00 L44.85,86.50 L44.66,87.00 L44.47,87.50 L44.29,88.00 L44.11,88.50 L43.93,89.00 L43.76,89.50 L43.59,90.00 L43.42,90.50 L43.25,91.00 L43.09,91.50 L42.94,92.00 L42.79,92.50 L42.64,93.00 L42.49,93.50 L42.35,94.00 L42.22,94.50 L42.09,95.00 L41.96,95.50 L41.84,96.00 L41.72,96.50 L41.61,97.00 L41.51,97.50 L41.40,98.00 L41.31,98.50 L41.22,99.00 L41.13,99.50 L41.05,100.00 L40.98,100.50 L40.91,101.00 L40.85,101.50 L40.79,102.00 L40.74,102.50 L40.70,103.00 L40.66,103.50 L40.63,104.00 L40.60,104.50 L40.58,105.00 L40.56,105.50 L40.55,106.00 L40.55,106.50 L40.55,107.00 L40.56,107.50 L40.58,108.00 L40.60,108.50 L40.63,109.00 L40.66,109.50 L40.70,110.00 L40.74,110.50 L40.79,111.00 L40.85,111.50 L40.91,112.00 L40.98,112.50 L41.05,113.00 L41.13,113.50 L41.22,114.00 L41.31,114.50 L41.40,115.00 L41.51,115.50 L41.61,116.00 L41.72,116.50 L41.84,117.00 L41.96,117.50 L42.09,118.00 L42.22,118.50 L42.35,119.00 L42.49,119.50 L42.64,120.00 L42.79,120.50 L42.94,121.00 L43.09,121.50 L43.25,122.00 L43.42,122.50 L43.59,123.00 L43.76,123.50 L43.93,124.00 L44.11,124.50 L44.29,125.00 L44.47,125.50 L44.66,126.00 L44.85,126.50 L45.04,127.00 L45.23,127.50 L45.43,128.00 L45.62,128.50 L45.82,129.00 L46.02,129.50 L46.22,130.00 L46.42,130.50 L46.63,131.00 L46.83,131.50 L47.04,132.00 L47.24,132.50 L47.45,133.00 L47.65,133.50 L47.86,134.00 L48.06,134.50 L48.27,135.00 L48.47,135.50 L48.68,136.00 L48.88,136.50 L49.08,137.00 L49.28,137.50 L49.48,138.00 L49.67,138.50 L49.87,139.00 L50.06,139.50 L50.25,140.00 L50.44,140.50 L50.63,141.00 L50.81,141.50 L50.99,142.00 L51.17,142.50 L51.34,143.00 L51.51,143.50 L51.68,144.00 L51.85,144.50 L52.01,145.00 L52.16,145.50 L52.31,146.00 L52.46,146.50 L52.61,147.00 L52.75,147.50 L52.88,148.00 L53.01,148.50 L53.14,149.00 L53.26,149.50 L53.38,150.00 L53.49,150.50 L53.59,151.00 L53.70,151.50 L53.79,152.00 L53.88,152.50 L53.97,153.00 L54.05,153.50 L54.12,154.00 L54.19,154.50 L54.25,155.00 L54.31,155.50 L54.36,156.00 L54.40,156.50 L54.44,157.00 L54.47,157.50 L54.50,158.00 L54.52,158.50 L54.54,159.00 L54.55,159.50 L54.55,160.00 L54.55,160.50 L54.54,161.00 L54.52,161.50 L54.50,162.00 L54.47,162.50 L54.44,163.00 L54.40,163.50 L54.36,164.00 L54.31,164.50 L54.25,165.00 L54.19,165.50 L54.12,166.00 L54.05,166.50 L53.97,167.00 L53.88,167.50 L53.79,168.00 L53.70,168.50 L53.59,169.00 L53.49,169.50 L53.38,170.00 L53.26,170.50 L53.14,171.00 L53.01,171.50 L52.88,172.00 L52.75,172.50 L52.61,173.00 L52.46,173.50 L52.31,174.00 L52.16,174.50 L52.01,175.00 L51.85,175.50 L51.68,176.00 L51.51,176.50 L51.34,177.00 L51.17,177.50 L50.99,178.00 L50.81,178.50 L50.63,179.00 L50.44,179.50 L50.25,180.00 L50.06,180.50 L49.87,181.00 L49.67,181.50 L49.48,182.00 L49.28,182.50 L49.08,183.00 L48.88,183.50 L48.68,184.00 L48.47,184.50 L48.27,185.00 L48.06,185.50 L47.86,186.00 L47.65,186.50 L47.45,187.00 L47.24,187.50 L47.04,188.00 L46.83,188.50 L46.63,189.00 L46.42,189.50 L46.22,190.00 L46.02,190.50 L45.82,191.00 L45.62,191.50 L45.43,192.00 L45.23,192.50 L45.04,193.00 L44.85,193.50 L44.66,194.00 L44.47,194.50 L44.29,195.00 L44.11,195.50 L43.93,196.00 L43.76,196.50 L43.59,197.00 L43.42,197.50 L43.25,198.00 L43.09,198.50 L42.94,199.00 L42.79,199.50 L42.64,200.00 L42.49,200.50 L42.35,201.00 L42.22,201.50 L42.09,202.00 L41.96,202.50 L41.84,203.00 L41.72,203.50 L41.61,204.00 L41.51,204.50 L41.40,205.00 L41.31,205.50 L41.22,206.00 L41.13,206.50 L41.05,207.00 L40.98,207.50 L40.91,208.00 L40.85,208.50 L40.79,209.00 L40.74,209.50 L40.70,210.00 L40.66,210.50 L40.63,211.00 L40.60,211.50 L40.58,212.00 L40.56,212.50 L40.55,213.00 L40.55,213.50 L40.55,214.00 L40.56,214.50 L40.58,215.00 L40.60,215.50 L40.63,216.00 L40.66,216.50 L40.70,217.00 L40.74,217.50 L40.79,218.00 L40.85,218.50 L40.91,219.00 L40.98,219.50 L41.05,220.00 L41.13,220.50 L41.22,221.00 L41.31,221.50 L41.40,222.00 L41.51,222.50 L41.61,223.00 L41.72,223.50 L41.84,224.00 L41.96,224.50 L42.09,225.00 L42.22,225.50 L42.35,226.00 L42.49,226.50 L42.64,227.00 L42.79,227.50 L42.94,228.00 L43.09,228.50 L43.25,229.00 L43.42,229.50 L43.59,230.00 L43.76,230.50 L43.93,231.00 L44.11,231.50 L44.29,232.00 L44.47,232.50 L44.66,233.00 L44.85,233.50 L45.04,234.00 L45.23,234.50 L45.43,235.00 L45.62,235.50 L45.82,236.00 L46.02,236.50 L46.22,237.00 L46.42,237.50 L46.63,238.00 L46.83,238.50 L47.04,239.00 L47.24,239.50 L47.45,240.00 L47.65,240.50 L47.86,241.00 L48.06,241.50 L48.27,242.00 L48.47,242.50 L48.68,243.00 L48.88,243.50 L49.08,244.00 L49.28,244.50 L49.48,245.00 L49.67,245.50 L49.87,246.00 L50.06,246.50 L50.25,247.00 L50.44,247.50 L50.63,248.00 L50.81,248.50 L50.99,249.00 L51.17,249.50 L51.34,250.00 L51.51,250.50 L51.68,251.00 L51.85,251.50 L52.01,252.00 L52.16,252.50 L52.31,253.00 L52.46,253.50 L52.61,254.00 L52.75,254.50 L52.88,255.00 L53.01,255.50 L53.14,256.00 L53.26,256.50 L53.38,257.00 L53.49,257.50 L53.59,258.00 L53.70,258.50 L53.79,259.00 L53.88,259.50 L53.97,260.00 L54.05,260.50 L54.12,261.00 L54.19,261.50 L54.25,262.00 L54.31,262.50 L54.36,263.00 L54.40,263.50 L54.44,264.00 L54.47,264.50 L54.50,265.00 L54.52,265.50 L54.54,266.00 L54.55,266.50 L54.55,267.00 L54.55,267.50 L54.54,268.00 L54.52,268.50 L54.50,269.00 L54.47,269.50 L54.44,270.00 L54.40,270.50 L54.36,271.00 L54.31,271.50 L54.25,272.00 L54.19,272.50 L54.12,273.00 L54.05,273.50 L53.97,274.00 L53.88,274.50 L53.79,275.00 L53.70,275.50 L53.59,276.00 L53.49,276.50 L53.38,277.00 L53.26,277.50 L53.14,278.00 L53.01,278.50 L52.88,279.00 L52.75,279.50 L52.61,280.00 L52.46,280.50 L52.31,281.00 L52.16,281.50 L52.01,282.00 L51.85,282.50 L51.68,283.00 L51.51,283.50 L51.34,284.00 L51.17,284.50 L50.99,285.00 L50.81,285.50 L50.63,286.00 L50.44,286.50 L50.25,287.00 L50.06,287.50 L49.87,288.00 L49.67,288.50 L49.48,289.00 L49.28,289.50 L49.08,290.00 L48.88,290.50 L48.68,291.00 L48.47,291.50 L48.27,292.00 L48.06,292.50 L47.86,293.00 L47.65,293.50 L47.45,294.00 L47.24,294.50 L47.04,295.00 L46.83,295.50 L46.63,296.00 L46.42,296.50 L46.22,297.00 L46.02,297.50 L45.82,298.00 L45.62,298.50 L45.43,299.00 L45.23,299.50 L45.04,300.00 L44.85,300.50 L44.66,301.00 L44.47,301.50 L44.29,302.00 L44.11,302.50 L43.93,303.00 L43.76,303.50 L43.59,304.00 L43.42,304.50 L43.25,305.00 L43.09,305.50 L42.94,306.00 L42.79,306.50 L42.64,307.00 L42.49,307.50 L42.35,308.00 L42.22,308.50 L42.09,309.00 L41.96,309.50 L41.84,310.00 L41.72,310.50 L41.61,311.00 L41.51,311.50 L41.40,312.00 L41.31,312.50 L41.22,313.00 L41.13,313.50 L41.05,314.00 L40.98,314.50 L40.91,315.00 L40.85,315.50 L40.79,316.00 L40.74,316.50 L40.70,317.00 L40.66,317.50 L40.63,318.00 L40.60,318.50 L40.58,319.00 L40.56,319.50 L40.55,320.00 L40.55,320.50 L40.55,321.00 L40.56,321.50 L40.58,322.00 L40.60,322.50 L40.63,323.00 L40.66,323.50 L40.70,324.00 L40.74,324.50 L40.79,325.00 L40.85,325.50 L40.91,326.00 L40.98,326.50 L41.05,327.00 L41.13,327.50 L41.22,328.00 L41.31,328.50 L41.40,329.00 L41.51,329.50 L41.61,330.00 L41.72,330.50 L41.84,331.00 L41.96,331.50 L42.09,332.00 L42.22,332.50 L42.35,333.00 L42.49,333.50 L42.64,334.00 L42.79,334.50 L42.94,335.00 L43.09,335.50 L43.25,336.00 L43.42,336.50 L43.59,337.00 L43.76,337.50 L43.93,338.00 L44.11,338.50 L44.29,339.00 L44.47,339.50 L44.66,340.00 L44.85,340.50 L45.04,341.00 L45.23,341.50 L45.43,342.00 L45.62,342.50 L45.82,343.00 L46.02,343.50 L46.22,344.00 L46.42,344.50 L46.63,345.00 L46.83,345.50 L47.04,346.00 L47.24,346.50 L47.45,347.00 L47.65,347.50 L47.86,348.00 L48.06,348.50 L48.27,349.00 L48.47,349.50 L48.68,350.00 L48.88,350.50 L49.08,351.00 L49.28,351.50 L49.48,352.00 L49.67,352.50 L49.87,353.00 L50.06,353.50 L50.25,354.00 L50.44,354.50 L50.63,355.00 L50.81,355.50 L50.99,356.00 L51.17,356.50 L51.34,357.00 L51.51,357.50 L51.68,358.00 L51.85,358.50 L52.01,359.00 L52.16,359.50 L52.31,360.00 L52.46,360.50 L52.61,361.00 L52.75,361.50 L52.88,362.00 L53.01,362.50 L53.14,363.00 L53.26,363.50 L53.38,364.00 L53.49,364.50 L53.59,365.00 L53.70,365.50 L53.79,366.00 L53.88,366.50 L53.97,367.00 L54.05,367.50 L54.12,368.00 L54.19,368.50 L54.25,369.00 L54.31,369.50 L54.36,370.00 L54.40,370.50 L54.44,371.00 L54.47,371.50 L54.50,372.00 L54.52,372.50 L54.54,373.00 L54.55,373.50 L54.55,374.00 L54.55,374.50 L54.54,375.00 L54.52,375.50 L54.50,376.00 L54.47,376.50 L54.44,377.00 L54.40,377.50 L54.36,378.00 L54.31,378.50 L54.25,379.00 L54.19,379.50 L54.12,380.00 L54.05,380.50 L53.97,381.00 L53.88,381.50 L53.79,382.00 L53.70,382.50 L53.59,383.00 L53.49,383.50 L53.38,384.00 L53.26,384.50 L53.14,385.00 L53.01,385.50 L52.88,386.00 L52.75,386.50 L52.61,387.00 L52.46,387.50 L52.31,388.00 L52.16,388.50 L52.01,389.00 L51.85,389.50 L51.68,390.00 L51.51,390.50 L51.34,391.00 L51.17,391.50 L50.99,392.00 L50.81,392.50 L50.63,393.00 L50.44,393.50 L50.25,394.00 L50.06,394.50 L49.87,395.00 L49.67,395.50 L49.48,396.00 L49.28,396.50 L49.08,397.00 L48.88,397.50 L48.68,398.00 L48.47,398.50 L48.27,399.00 L48.06,399.50 L47.86,400.00 L47.65,400.50 L47.45,401.00 L47.24,401.50 L47.04,402.00 L46.83,402.50 L46.63,403.00 L46.42,403.50 L46.22,404.00 L46.02,404.50 L45.82,405.00 L45.62,405.50 L45.43,406.00 L45.23,406.50 L45.04,407.00 L44.85,407.50 L44.66,408.00 L44.47,408.50 L44.29,409.00 L44.11,409.50 L43.93,410.00 L43.76,410.50 L43.59,411.00 L43.42,411.50 L43.25,412.00 L43.09,412.50 L42.94,413.00 L42.79,413.50 L42.64,414.00 L42.49,414.50 L42.35,415.00 L42.22,415.50 L42.09,416.00 L41.96,416.50 L41.84,417.00 L41.72,417.50 L41.61,418.00 L41.51,418.50 L41.40,419.00 L41.31,419.50 L41.22,420.00 L41.13,420.50 L41.05,421.00 L40.98,421.50 L40.91,422.00 L40.85,422.50 L40.79,423.00 L40.74,423.50 L40.70,424.00 L40.66,424.50 L40.63,425.00 L40.60,425.50 L40.58,426.00 L40.56,426.50 L40.55,427.00 L40.55,427.50 L40.55,428.00 L40.56,428.50 L40.58,429.00 L40.60,429.50 L40.63,430.00 L40.66,430.50 L40.70,431.00 L40.74,431.50 L40.79,432.00 L40.85,432.50 L40.91,433.00 L40.98,433.50 L41.05,434.00 L41.13,434.50 L41.22,435.00 L41.31,435.50 L41.40,436.00 L41.51,436.50 L41.61,437.00 L41.72,437.50 L41.84,438.00 L41.96,438.50 L42.09,439.00 L42.22,439.50 L42.35,440.00 L42.49,440.50 L42.64,441.00 L42.79,441.50 L42.94,442.00 L43.09,442.50 L43.25,443.00 L43.42,443.50 L43.59,444.00 L43.76,444.50 L43.93,445.00 L44.11,445.50 L44.29,446.00 L44.47,446.50 L44.66,447.00 L44.85,447.50 L45.04,448.00 L45.23,448.50 L45.43,449.00 L45.62,449.50 L45.82,450.00 L46.02,450.50 L46.22,451.00 L46.42,451.50 L46.63,452.00 L46.83,452.50 L47.04,453.00 L47.24,453.50 L47.45,454.00 L47.65,454.50 L47.86,455.00 L48.06,455.50 L48.27,456.00 L48.47,456.50 L48.68,457.00 L48.88,457.50 L49.08,458.00 L49.28,458.50 L49.48,459.00 L49.67,459.50 L49.87,460.00 L50.06,460.50 L50.25,461.00 L50.44,461.50 L50.63,462.00 L50.81,462.50 L50.99,463.00 L51.17,463.50 L51.34,464.00 L51.51,464.50 L51.68,465.00 L51.85,465.50 L52.01,466.00 L52.16,466.50 L52.31,467.00 L52.46,467.50 L52.61,468.00 L52.75,468.50 L52.88,469.00 L53.01,469.50 L53.14,470.00 L53.26,470.50 L53.38,471.00 L53.49,471.50 L53.59,472.00 L53.70,472.50 L53.79,473.00 L53.88,473.50 L53.97,474.00 L54.05,474.50 L54.12,475.00 L54.19,475.50 L54.25,476.00 L54.31,476.50 L54.36,477.00 L54.40,477.50 L54.44,478.00 L54.47,478.50 L54.50,479.00 L54.52,479.50 L54.54,480.00 L54.55,480.50 L54.55,481.00 L54.55,481.50 L54.54,482.00 L54.52,482.50 L54.50,483.00 L54.47,483.50 L54.44,484.00 L54.40,484.50 L54.36,485.00 L54.31,485.50 L54.25,486.00 L54.19,486.50 L54.12,487.00 L54.05,487.50 L53.97,488.00 L53.88,488.50 L53.79,489.00 L53.70,489.50 L53.59,490.00 L53.49,490.50 L53.38,491.00 L53.26,491.50 L53.14,492.00 L53.01,492.50 L52.88,493.00 L52.75,493.50 L52.61,494.00 L52.46,494.50 L52.31,495.00 L52.16,495.50 L52.01,496.00 L51.85,496.50 L51.68,497.00 L51.51,497.50 L51.34,498.00 L51.17,498.50 L50.99,499.00 L50.81,499.50 L50.63,500.00 L50.44,500.50 L50.25,501.00 L50.06,501.50 L49.87,502.00 L49.67,502.50 L49.48,503.00 L49.28,503.50 L49.08,504.00 L48.88,504.50 L48.68,505.00 L48.47,505.50 L48.27,506.00 L48.06,506.50 L47.86,507.00 L47.65,507.50 L47.45,508.00 L47.24,508.50 L47.04,509.00 L46.83,509.50 L46.63,510.00 L46.42,510.50 L46.22,511.00 L46.02,511.50 L45.82,512.00 L45.62,512.50 L45.43,513.00 L45.23,513.50 L45.04,514.00 L44.85,514.50 L44.66,515.00 L44.47,515.50 L44.29,516.00 L44.11,516.50 L43.93,517.00 L43.76,517.50 L43.59,518.00 L43.42,518.50 L43.25,519.00 L43.09,519.50 L42.94,520.00 L42.79,520.50 L42.64,521.00 L42.49,521.50 L42.35,522.00 L42.22,522.50 L42.09,523.00 L41.96,523.50 L41.84,524.00 L41.72,524.50 L41.61,525.00 L41.51,525.50 L41.40,526.00 L41.31,526.50 L41.22,527.00 L41.13,527.50 L41.05,528.00 L40.98,528.50 L40.91,529.00 L40.85,529.50 L40.79,530.00 L40.74,530.50 L40.70,531.00 L40.66,531.50 L40.63,532.00 L40.60,532.50 L40.58,533.00 L40.56,533.50 L40.55,534.00 L40.55,534.50 L40.55,535.00 L40.56,535.50 L40.58,536.00 L40.60,536.50 L40.63,537.00 L40.66,537.50 L40.70,538.00 L40.74,538.50 L40.79,539.00" fill="none" stroke="#ffffff" stroke-width="2.2" opacity="0.95"/>
<rect x="93.6" y="245" width="480" height="277.5" fill="#f9f9f6"/>
<rect x="95.6" y="247" width="475.5" height="273.5" fill="#d9e0d9"/>
<g filter="url(#soft)">
<rect x="113.00" y="284.30" width="27.10" height="26.82" rx="1.5" fill="#e3b983"/>
<rect x="485.30" y="291.20" width="27.10" height="26.82" rx="1.5" fill="#e3b983"/>
<rect x="113.00" y="312.82" width="27.10" height="26.82" rx="1.5" fill="#b2cf84"/>
<rect x="113.00" y="334.44" width="27.10" height="26.82" rx="1.5" fill="#b2cf84"/>
<rect x="113.00" y="356.06" width="27.10" height="26.82" rx="1.5" fill="#b2cf84"/>
<rect x="113.00" y="377.68" width="27.10" height="26.82" rx="1.5" fill="#b2cf84"/>
<rect x="113.00" y="399.30" width="27.10" height="26.82" rx="1.5" fill="#b2cf84"/>
<rect x="113.00" y="420.92" width="27.10" height="26.82" rx="1.5" fill="#b2cf84"/>
<rect x="134.90" y="312.82" width="27.10" height="26.82" rx="1.5" fill="#b2cf84"/>
<rect x="134.90" y="334.44" width="27.10" height="26.82" rx="1.5" fill="#b2cf84"/>
<rect x="134.90" y="356.06" width="27.10" height="26.82" rx="1.5" fill="#b2cf84"/>
<rect x="134.90" y="377.68" width="27.10" height="26.82" rx="1.5" fill="#b2cf84"/>
<rect x="134.90" y="399.30" width="27.10" height="26.82" rx="1.5" fill="#b2cf84"/>
<rect x="134.90" y="420.92" width="27.10" height="26.82" rx="1.5" fill="#b2cf84"/>
<rect x="156.80" y="356.06" width="27.10" height="26.82" rx="1.5" fill="#b2cf84"/>
<rect x="156.80" y="377.68" width="27.10" height="26.82" rx="1.5" fill="#b2cf84"/>
<rect x="156.80" y="399.30" width="27.10" height="26.82" rx="1.5" fill="#b2cf84"/>
<rect x="156.80" y="420.92" width="27.10" height="26.82" rx="1.5" fill="#b2cf84"/>
<rect x="178.70" y="356.06" width="27.10" height="26.82" rx="1.5" fill="#b2cf84"/>
<rect x="178.70" y="377.68" width="27.10" height="26.82" rx="1.5" fill="#b2cf84"/>
<rect x="178.70" y="399.30" width="27.10" height="26.82" rx="1.5" fill="#b2cf84"/>
<rect x="178.70" y="420.92" width="27.10" height="26.82" rx="1.5" fill="#b2cf84"/>
<rect x="200.60" y="356.06" width="27.10" height="26.82" rx="1.5" fill="#b2cf84"/>
<rect x="200.60" y="377.68" width="27.10" height="26.82" rx="1.5" fill="#b2cf84"/>
<rect x="200.60" y="399.30" width="27.10" height="26.82" rx="1.5" fill="#b2cf84"/>
<rect x="200.60" y="420.92" width="27.10" height="26.82" rx="1.5" fill="#b2cf84"/>
<rect x="222.50" y="356.06" width="27.10" height="26.82" rx="1.5" fill="#b2cf84"/>
<rect x="222.50" y="377.68" width="27.10" height="26.82" rx="1.5" fill="#b2cf84"/>
<rect x="222.50" y="399.30" width="27.10" height="26.82" rx="1.5" fill="#b2cf84"/>
<rect x="222.50" y="420.92" width="27.10" height="26.82" rx="1.5" fill="#b2cf84"/>
<rect x="244.40" y="356.06" width="27.10" height="26.82" rx="1.5" fill="#b2cf84"/>
<rect x="244.40" y="377.68" width="27.10" height="26.82" rx="1.5" fill="#b2cf84"/>
<rect x="244.40" y="399.30" width="27.10" height="26.82" rx="1.5" fill="#b2cf84"/>
<rect x="244.40" y="420.92" width="27.10" height="26.82" rx="1.5" fill="#b2cf84"/>
<rect x="266.30" y="356.06" width="27.10" height="26.82" rx="1.5" fill="#b2cf84"/>
<rect x="266.30" y="377.68" width="27.10" height="26.82" rx="1.5" fill="#b2cf84"/>
<rect x="266.30" y="399.30" width="27.10" height="26.82" rx="1.5" fill="#b2cf84"/>
<rect x="266.30" y="420.92" width="27.10" height="26.82" rx="1.5" fill="#b2cf84"/>
<rect x="288.20" y="356.06" width="27.10" height="26.82" rx="1.5" fill="#b2cf84"/>
<rect x="288.20" y="377.68" width="27.10" height="26.82" rx="1.5" fill="#b2cf84"/>
<rect x="288.20" y="399.30" width="27.10" height="26.82" rx="1.5" fill="#b2cf84"/>
<rect x="288.20" y="420.92" width="27.10" height="26.82" rx="1.5" fill="#b2cf84"/>
<rect x="310.10" y="356.06" width="27.10" height="26.82" rx="1.5" fill="#b2cf84"/>
<rect x="310.10" y="377.68" width="27.10" height="26.82" rx="1.5" fill="#b2cf84"/>
<rect x="310.10" y="399.30" width="27.10" height="26.82" rx="1.5" fill="#b2cf84"/>
<rect x="310.10" y="420.92" width="27.10" height="26.82" rx="1.5" fill="#b2cf84"/>
<rect x="332.00" y="356.06" width="27.10" height="26.82" rx="1.5" fill="#b2cf84"/>
<rect x="332.00" y="377.68" width="27.10" height="26.82" rx="1.5" fill="#b2cf84"/>
<rect x="332.00" y="399.30" width="27.10" height="26.82" rx="1.5" fill="#b2cf84"/>
<rect x="332.00" y="420.92" width="27.10" height="26.82" rx="1.5" fill="#b2cf84"/>
<rect x="353.90" y="356.06" width="27.10" height="26.82" rx="1.5" fill="#b2cf84"/>
<rect x="353.90" y="377.68" width="27.10" height="26.82" rx="1.5" fill="#b2cf84"/>
<rect x="353.90" y="399.30" width="27.10" height="26.82" rx="1.5" fill="#b2cf84"/>
<rect x="353.90" y="420.92" width="27.10" height="26.82" rx="1.5" fill="#b2cf84"/>
<rect x="375.80" y="312.82" width="27.10" height="26.82" rx="1.5" fill="#b6a9cf"/>
<rect x="397.70" y="312.82" width="27.10" height="26.82" rx="1.5" fill="#e3b983"/>
<rect x="419.60" y="312.82" width="27.10" height="26.82" rx="1.5" fill="#e3b983"/>
<rect x="441.50" y="312.82" width="27.10" height="26.82" rx="1.5" fill="#e3b983"/>
<rect x="463.40" y="312.82" width="27.10" height="26.82" rx="1.5" fill="#e3b983"/>
<rect x="485.30" y="312.82" width="27.10" height="26.82" rx="1.5" fill="#e3b983"/>
<rect x="375.80" y="334.44" width="27.10" height="26.82" rx="1.5" fill="#b2cf84"/>
<rect x="397.70" y="334.44" width="27.10" height="26.82" rx="1.5" fill="#b6a9cf"/>
<rect x="419.60" y="334.44" width="27.10" height="26.82" rx="1.5" fill="#e3b983"/>
<rect x="441.50" y="334.44" width="27.10" height="26.82" rx="1.5" fill="#e3b983"/>
<rect x="463.40" y="334.44" width="27.10" height="26.82" rx="1.5" fill="#e3b983"/>
<rect x="485.30" y="334.44" width="27.10" height="26.82" rx="1.5" fill="#e3b983"/>
<rect x="375.80" y="356.06" width="27.10" height="26.82" rx="1.5" fill="#b2cf84"/>
<rect x="397.70" y="356.06" width="27.10" height="26.82" rx="1.5" fill="#b6a9cf"/>
<rect x="419.60" y="356.06" width="27.10" height="26.82" rx="1.5" fill="#b6a9cf"/>
<rect x="441.50" y="356.06" width="27.10" height="26.82" rx="1.5" fill="#e3b983"/>
<rect x="463.40" y="356.06" width="27.10" height="26.82" rx="1.5" fill="#e3b983"/>
<rect x="485.30" y="356.06" width="27.10" height="26.82" rx="1.5" fill="#e3b983"/>
<rect x="375.80" y="377.68" width="27.10" height="26.82" rx="1.5" fill="#b2cf84"/>
<rect x="397.70" y="377.68" width="27.10" height="26.82" rx="1.5" fill="#b2cf84"/>
<rect x="419.60" y="377.68" width="27.10" height="26.82" rx="1.5" fill="#b6a9cf"/>
<rect x="441.50" y="377.68" width="27.10" height="26.82" rx="1.5" fill="#b6a9cf"/>
<rect x="463.40" y="377.68" width="27.10" height="26.82" rx="1.5" fill="#e3b983"/>
<rect x="485.30" y="377.68" width="27.10" height="26.82" rx="1.5" fill="#e3b983"/>
<rect x="375.80" y="399.30" width="27.10" height="26.82" rx="1.5" fill="#b2cf84"/>
<rect x="397.70" y="399.30" width="27.10" height="26.82" rx="1.5" fill="#b2cf84"/>
<rect x="419.60" y="399.30" width="27.10" height="26.82" rx="1.5" fill="#b2cf84"/>
<rect x="441.50" y="399.30" width="27.10" height="26.82" rx="1.5" fill="#b2cf84"/>
<rect x="463.40" y="399.30" width="27.10" height="26.82" rx="1.5" fill="#b6a9cf"/>
<rect x="485.30" y="399.30" width="27.10" height="26.82" rx="1.5" fill="#e3b983"/>
<g fill="none" stroke="#a2ab96" stroke-width="1.0">
<line x1="113.50" y1="285.00" x2="113.50" y2="310.62"/>
<line x1="485.80" y1="291.90" x2="485.80" y2="317.52"/>
<line x1="113.50" y1="313.52" x2="113.50" y2="339.14"/>
<line x1="113.50" y1="335.14" x2="113.50" y2="360.76"/>
<line x1="113.50" y1="356.76" x2="113.50" y2="382.38"/>
<line x1="113.50" y1="378.38" x2="113.50" y2="404.00"/>
<line x1="113.50" y1="400.00" x2="113.50" y2="425.62"/>
<line x1="113.50" y1="421.62" x2="113.50" y2="447.24"/>
<line x1="113.50" y1="447.24" x2="140.10" y2="447.24"/>
<line x1="135.40" y1="447.24" x2="162.00" y2="447.24"/>
<line x1="157.30" y1="447.24" x2="183.90" y2="447.24"/>
<line x1="179.20" y1="447.24" x2="205.80" y2="447.24"/>
<line x1="201.10" y1="447.24" x2="227.70" y2="447.24"/>
<line x1="223.00" y1="447.24" x2="249.60" y2="447.24"/>
<line x1="244.90" y1="447.24" x2="271.50" y2="447.24"/>
<line x1="266.80" y1="447.24" x2="293.40" y2="447.24"/>
<line x1="288.70" y1="447.24" x2="315.30" y2="447.24"/>
<line x1="310.60" y1="447.24" x2="337.20" y2="447.24"/>
<line x1="332.50" y1="447.24" x2="359.10" y2="447.24"/>
<line x1="354.40" y1="447.24" x2="381.00" y2="447.24"/>
<line x1="376.30" y1="313.52" x2="376.30" y2="339.14"/>
<line x1="376.30" y1="335.14" x2="376.30" y2="360.76"/>
<line x1="376.30" y1="425.62" x2="402.90" y2="425.62"/>
<line x1="398.20" y1="425.62" x2="424.80" y2="425.62"/>
<line x1="420.10" y1="425.62" x2="446.70" y2="425.62"/>
<line x1="442.00" y1="425.62" x2="468.60" y2="425.62"/>
<line x1="463.90" y1="425.62" x2="490.50" y2="425.62"/>
<line x1="485.80" y1="425.62" x2="512.40" y2="425.62"/>
</g>
<rect x="119.00" y="283.50" width="21.90" height="21.62" fill="#eeae66"/>
<rect x="119.00" y="283.50" width="21.90" height="21.62" fill="url(#hly)"/>
<rect x="119.00" y="283.50" width="21.90" height="21.62" fill="url(#hlx)"/>
<rect x="119.00" y="283.50" width="21.90" height="21.62" fill="none" stroke="#f6dcb4" stroke-width="1.3"/>
<rect x="491.30" y="290.40" width="21.90" height="21.62" fill="#eeae66"/>
<rect x="491.30" y="290.40" width="21.90" height="21.62" fill="url(#hly)"/>
<rect x="491.30" y="290.40" width="21.90" height="21.62" fill="url(#hlx)"/>
<rect x="491.30" y="290.40" width="21.90" height="21.62" fill="none" stroke="#f6dcb4" stroke-width="1.3"/>
<rect x="119.00" y="312.02" width="21.90" height="21.62" fill="#a2d36c"/>
<rect x="119.00" y="312.02" width="21.90" height="21.62" fill="url(#hly)"/>
<rect x="119.00" y="312.02" width="21.90" height="21.62" fill="url(#hlx)"/>
<rect x="119.00" y="312.02" width="21.90" height="21.62" fill="none" stroke="#d4efb4" stroke-width="1.3"/>
<rect x="119.00" y="333.64" width="21.90" height="21.62" fill="#a2d36c"/>
<rect x="119.00" y="333.64" width="21.90" height="21.62" fill="url(#hly)"/>
<rect x="119.00" y="333.64" width="21.90" height="21.62" fill="url(#hlx)"/>
<rect x="119.00" y="333.64" width="21.90" height="21.62" fill="none" stroke="#d4efb4" stroke-width="1.3"/>
<rect x="119.00" y="355.26" width="21.90" height="21.62" fill="#a2d36c"/>
<rect x="119.00" y="355.26" width="21.90" height="21.62" fill="url(#hly)"/>
<rect x="119.00" y="355.26" width="21.90" height="21.62" fill="url(#hlx)"/>
<rect x="119.00" y="355.26" width="21.90" height="21.62" fill="none" stroke="#d4efb4" stroke-width="1.3"/>
<rect x="119.00" y="376.88" width="21.90" height="21.62" fill="#a2d36c"/>
<rect x="119.00" y="376.88" width="21.90" height="21.62" fill="url(#hly)"/>
<rect x="119.00" y="376.88" width="21.90" height="21.62" fill="url(#hlx)"/>
<rect x="119.00" y="376.88" width="21.90" height="21.62" fill="none" stroke="#d4efb4" stroke-width="1.3"/>
<rect x="119.00" y="398.50" width="21.90" height="21.62" fill="#a2d36c"/>
<rect x="119.00" y="398.50" width="21.90" height="21.62" fill="url(#hly)"/>
<rect x="119.00" y="398.50" width="21.90" height="21.62" fill="url(#hlx)"/>
<rect x="119.00" y="398.50" width="21.90" height="21.62" fill="none" stroke="#d4efb4" stroke-width="1.3"/>
<rect x="119.00" y="420.12" width="21.90" height="21.62" fill="#a2d36c"/>
<rect x="119.00" y="420.12" width="21.90" height="21.62" fill="url(#hly)"/>
<rect x="119.00" y="420.12" width="21.90" height="21.62" fill="url(#hlx)"/>
<rect x="119.00" y="420.12" width="21.90" height="21.62" fill="none" stroke="#d4efb4" stroke-width="1.3"/>
<rect x="140.90" y="312.02" width="21.90" height="21.62" fill="#a2d36c"/>
<rect x="140.90" y="312.02" width="21.90" height="21.62" fill="url(#hly)"/>
<rect x="140.90" y="312.02" width="21.90" height="21.62" fill="url(#hlx)"/>
<rect x="140.90" y="312.02" width="21.90" height="21.62" fill="none" stroke="#d4efb4" stroke-width="1.3"/>
<rect x="140.90" y="333.64" width="21.90" height="21.62" fill="#a2d36c"/>
<rect x="140.90" y="333.64" width="21.90" height="21.62" fill="url(#hly)"/>
<rect x="140.90" y="333.64" width="21.90" height="21.62" fill="url(#hlx)"/>
<rect x="140.90" y="333.64" width="21.90" height="21.62" fill="none" stroke="#d4efb4" stroke-width="1.3"/>
<rect x="140.90" y="355.26" width="21.90" height="21.62" fill="#a2d36c"/>
<rect x="140.90" y="355.26" width="21.90" height="21.62" fill="url(#hly)"/>
<rect x="140.90" y="355.26" width="21.90" height="21.62" fill="url(#hlx)"/>
<rect x="140.90" y="355.26" width="21.90" height="21.62" fill="none" stroke="#d4efb4" stroke-width="1.3"/>
<rect x="140.90" y="376.88" width="21.90" height="21.62" fill="#a2d36c"/>
<rect x="140.90" y="376.88" width="21.90" height="21.62" fill="url(#hly)"/>
<rect x="140.90" y="376.88" width="21.90" height="21.62" fill="url(#hlx)"/>
<rect x="140.90" y="376.88" width="21.90" height="21.62" fill="none" stroke="#d4efb4" stroke-width="1.3"/>
<rect x="140.90" y="398.50" width="21.90" height="21.62" fill="#a2d36c"/>
<rect x="140.90" y="398.50" width="21.90" height="21.62" fill="url(#hly)"/>
<rect x="140.90" y="398.50" width="21.90" height="21.62" fill="url(#hlx)"/>
<rect x="140.90" y="398.50" width="21.90" height="21.62" fill="none" stroke="#d4efb4" stroke-width="1.3"/>
<rect x="140.90" y="420.12" width="21.90" height="21.62" fill="#a2d36c"/>
<rect x="140.90" y="420.12" width="21.90" height="21.62" fill="url(#hly)"/>
<rect x="140.90" y="420.12" width="21.90" height="21.62" fill="url(#hlx)"/>
<rect x="140.90" y="420.12" width="21.90" height="21.62" fill="none" stroke="#d4efb4" stroke-width="1.3"/>
<rect x="162.80" y="355.26" width="21.90" height="21.62" fill="#a2d36c"/>
<rect x="162.80" y="355.26" width="21.90" height="21.62" fill="url(#hly)"/>
<rect x="162.80" y="355.26" width="21.90" height="21.62" fill="url(#hlx)"/>
<rect x="162.80" y="355.26" width="21.90" height="21.62" fill="none" stroke="#d4efb4" stroke-width="1.3"/>
<rect x="162.80" y="376.88" width="21.90" height="21.62" fill="#a2d36c"/>
<rect x="162.80" y="376.88" width="21.90" height="21.62" fill="url(#hly)"/>
<rect x="162.80" y="376.88" width="21.90" height="21.62" fill="url(#hlx)"/>
<rect x="162.80" y="376.88" width="21.90" height="21.62" fill="none" stroke="#d4efb4" stroke-width="1.3"/>
<rect x="162.80" y="398.50" width="21.90" height="21.62" fill="#a2d36c"/>
<rect x="162.80" y="398.50" width="21.90" height="21.62" fill="url(#hly)"/>
<rect x="162.80" y="398.50" width="21.90" height="21.62" fill="url(#hlx)"/>
<rect x="162.80" y="398.50" width="21.90" height="21.62" fill="none" stroke="#d4efb4" stroke-width="1.3"/>
<rect x="162.80" y="420.12" width="21.90" height="21.62" fill="#a2d36c"/>
<rect x="162.80" y="420.12" width="21.90" height="21.62" fill="url(#hly)"/>
<rect x="162.80" y="420.12" width="21.90" height="21.62" fill="url(#hlx)"/>
<rect x="162.80" y="420.12" width="21.90" height="21.62" fill="none" stroke="#d4efb4" stroke-width="1.3"/>
<rect x="184.70" y="355.26" width="21.90" height="21.62" fill="#a2d36c"/>
<rect x="184.70" y="355.26" width="21.90" height="21.62" fill="url(#hly)"/>
<rect x="184.70" y="355.26" width="21.90" height="21.62" fill="url(#hlx)"/>
<rect x="184.70" y="355.26" width="21.90" height="21.62" fill="none" stroke="#d4efb4" stroke-width="1.3"/>
<rect x="184.70" y="376.88" width="21.90" height="21.62" fill="#a2d36c"/>
<rect x="184.70" y="376.88" width="21.90" height="21.62" fill="url(#hly)"/>
<rect x="184.70" y="376.88" width="21.90" height="21.62" fill="url(#hlx)"/>
<rect x="184.70" y="376.88" width="21.90" height="21.62" fill="none" stroke="#d4efb4" stroke-width="1.3"/>
<rect x="184.70" y="398.50" width="21.90" height="21.62" fill="#a2d36c"/>
<rect x="184.70" y="398.50" width="21.90" height="21.62" fill="url(#hly)"/>
<rect x="184.70" y="398.50" width="21.90" height="21.62" fill="url(#hlx)"/>
<rect x="184.70" y="398.50" width="21.90" height="21.62" fill="none" stroke="#d4efb4" stroke-width="1.3"/>
<rect x="184.70" y="420.12" width="21.90" height="21.62" fill="#a2d36c"/>
<rect x="184.70" y="420.12" width="21.90" height="21.62" fill="url(#hly)"/>
<rect x="184.70" y="420.12" width="21.90" height="21.62" fill="url(#hlx)"/>
<rect x="184.70" y="420.12" width="21.90" height="21.62" fill="none" stroke="#d4efb4" stroke-width="1.3"/>
<rect x="206.60" y="355.26" width="21.90" height="21.62" fill="#a2d36c"/>
<rect x="206.60" y="355.26" width="21.90" height="21.62" fill="url(#hly)"/>
<rect x="206.60" y="355.26" width="21.90" height="21.62" fill="url(#hlx)"/>
<rect x="206.60" y="355.26" width="21.90" height="21.62" fill="none" stroke="#d4efb4" stroke-width="1.3"/>
<rect x="206.60" y="376.88" width="21.90" height="21.62" fill="#a2d36c"/>
<rect x="206.60" y="376.88" width="21.90" height="21.62" fill="url(#hly)"/>
<rect x="206.60" y="376.88" width="21.90" height="21.62" fill="url(#hlx)"/>
<rect x="206.60" y="376.88" width="21.90" height="21.62" fill="none" stroke="#d4efb4" stroke-width="1.3"/>
<rect x="206.60" y="398.50" width="21.90" height="21.62" fill="#a2d36c"/>
<rect x="206.60" y="398.50" width="21.90" height="21.62" fill="url(#hly)"/>
<rect x="206.60" y="398.50" width="21.90" height="21.62" fill="url(#hlx)"/>
<rect x="206.60" y="398.50" width="21.90" height="21.62" fill="none" stroke="#d4efb4" stroke-width="1.3"/>
<rect x="206.60" y="420.12" width="21.90" height="21.62" fill="#a2d36c"/>
<rect x="206.60" y="420.12" width="21.90" height="21.62" fill="url(#hly)"/>
<rect x="206.60" y="420.12" width="21.90" height="21.62" fill="url(#hlx)"/>
<rect x="206.60" y="420.12" width="21.90" height="21.62" fill="none" stroke="#d4efb4" stroke-width="1.3"/>
<rect x="228.50" y="355.26" width="21.90" height="21.62" fill="#a2d36c"/>
<rect x="228.50" y="355.26" width="21.90" height="21.62" fill="url(#hly)"/>
<rect x="228.50" y="355.26" width="21.90" height="21.62" fill="url(#hlx)"/>
<rect x="228.50" y="355.26" width="21.90" height="21.62" fill="none" stroke="#d4efb4" stroke-width="1.3"/>
<rect x="228.50" y="376.88" width="21.90" height="21.62" fill="#a2d36c"/>
<rect x="228.50" y="376.88" width="21.90" height="21.62" fill="url(#hly)"/>
<rect x="228.50" y="376.88" width="21.90" height="21.62" fill="url(#hlx)"/>
<rect x="228.50" y="376.88" width="21.90" height="21.62" fill="none" stroke="#d4efb4" stroke-width="1.3"/>
<rect x="228.50" y="398.50" width="21.90" height="21.62" fill="#a2d36c"/>
<rect x="228.50" y="398.50" width="21.90" height="21.62" fill="url(#hly)"/>
<rect x="228.50" y="398.50" width="21.90" height="21.62" fill="url(#hlx)"/>
<rect x="228.50" y="398.50" width="21.90" height="21.62" fill="none" stroke="#d4efb4" stroke-width="1.3"/>
<rect x="228.50" y="420.12" width="21.90" height="21.62" fill="#a2d36c"/>
<rect x="228.50" y="420.12" width="21.90" height="21.62" fill="url(#hly)"/>
<rect x="228.50" y="420.12" width="21.90" height="21.62" fill="url(#hlx)"/>
<rect x="228.50" y="420.12" width="21.90" height="21.62" fill="none" stroke="#d4efb4" stroke-width="1.3"/>
<rect x="250.40" y="355.26" width="21.90" height="21.62" fill="#a2d36c"/>
<rect x="250.40" y="355.26" width="21.90" height="21.62" fill="url(#hly)"/>
<rect x="250.40" y="355.26" width="21.90" height="21.62" fill="url(#hlx)"/>
<rect x="250.40" y="355.26" width="21.90" height="21.62" fill="none" stroke="#d4efb4" stroke-width="1.3"/>
<rect x="250.40" y="376.88" width="21.90" height="21.62" fill="#a2d36c"/>
<rect x="250.40" y="376.88" width="21.90" height="21.62" fill="url(#hly)"/>
<rect x="250.40" y="376.88" width="21.90" height="21.62" fill="url(#hlx)"/>
<rect x="250.40" y="376.88" width="21.90" height="21.62" fill="none" stroke="#d4efb4" stroke-width="1.3"/>
<rect x="250.40" y="398.50" width="21.90" height="21.62" fill="#a2d36c"/>
<rect x="250.40" y="398.50" width="21.90" height="21.62" fill="url(#hly)"/>
<rect x="250.40" y="398.50" width="21.90" height="21.62" fill="url(#hlx)"/>
<rect x="250.40" y="398.50" width="21.90" height="21.62" fill="none" stroke="#d4efb4" stroke-width="1.3"/>
<rect x="250.40" y="420.12" width="21.90" height="21.62" fill="#a2d36c"/>
<rect x="250.40" y="420.12" width="21.90" height="21.62" fill="url(#hly)"/>
<rect x="250.40" y="420.12" width="21.90" height="21.62" fill="url(#hlx)"/>
<rect x="250.40" y="420.12" width="21.90" height="21.62" fill="none" stroke="#d4efb4" stroke-width="1.3"/>
<rect x="272.30" y="355.26" width="21.90" height="21.62" fill="#a2d36c"/>
<rect x="272.30" y="355.26" width="21.90" height="21.62" fill="url(#hly)"/>
<rect x="272.30" y="355.26" width="21.90" height="21.62" fill="url(#hlx)"/>
<rect x="272.30" y="355.26" width="21.90" height="21.62" fill="none" stroke="#d4efb4" stroke-width="1.3"/>
<rect x="272.30" y="376.88" width="21.90" height="21.62" fill="#a2d36c"/>
<rect x="272.30" y="376.88" width="21.90" height="21.62" fill="url(#hly)"/>
<rect x="272.30" y="376.88" width="21.90" height="21.62" fill="url(#hlx)"/>
<rect x="272.30" y="376.88" width="21.90" height="21.62" fill="none" stroke="#d4efb4" stroke-width="1.3"/>
<rect x="272.30" y="398.50" width="21.90" height="21.62" fill="#a2d36c"/>
<rect x="272.30" y="398.50" width="21.90" height="21.62" fill="url(#hly)"/>
<rect x="272.30" y="398.50" width="21.90" height="21.62" fill="url(#hlx)"/>
<rect x="272.30" y="398.50" width="21.90" height="21.62" fill="none" stroke="#d4efb4" stroke-width="1.3"/>
<rect x="272.30" y="420.12" width="21.90" height="21.62" fill="#a2d36c"/>
<rect x="272.30" y="420.12" width="21.90" height="21.62" fill="url(#hly)"/>
<rect x="272.30" y="420.12" width="21.90" height="21.62" fill="url(#hlx)"/>
<rect x="272.30" y="420.12" width="21.90" height="21.62" fill="none" stroke="#d4efb4" stroke-width="1.3"/>
<rect x="294.20" y="355.26" width="21.90" height="21.62" fill="#a2d36c"/>
<rect x="294.20" y="355.26" width="21.90" height="21.62" fill="url(#hly)"/>
<rect x="294.20" y="355.26" width="21.90" height="21.62" fill="url(#hlx)"/>
<rect x="294.20" y="355.26" width="21.90" height="21.62" fill="none" stroke="#d4efb4" stroke-width="1.3"/>
<rect x="294.20" y="376.88" width="21.90" height="21.62" fill="#a2d36c"/>
<rect x="294.20" y="376.88" width="21.90" height="21.62" fill="url(#hly)"/>
<rect x="294.20" y="376.88" width="21.90" height="21.62" fill="url(#hlx)"/>
<rect x="294.20" y="376.88" width="21.90" height="21.62" fill="none" stroke="#d4efb4" stroke-width="1.3"/>
<rect x="294.20" y="398.50" width="21.90" height="21.62" fill="#a2d36c"/>
<rect x="294.20" y="398.50" width="21.90" height="21.62" fill="url(#hly)"/>
<rect x="294.20" y="398.50" width="21.90" height="21.62" fill="url(#hlx)"/>
<rect x="294.20" y="398.50" width="21.90" height="21.62" fill="none" stroke="#d4efb4" stroke-width="1.3"/>
<rect x="294.20" y="420.12" width="21.90" height="21.62" fill="#a2d36c"/>
<rect x="294.20" y="420.12" width="21.90" height="21.62" fill="url(#hly)"/>
<rect x="294.20" y="420.12" width="21.90" height="21.62" fill="url(#hlx)"/>
<rect x="294.20" y="420.12" width="21.90" height="21.62" fill="none" stroke="#d4efb4" stroke-width="1.3"/>
<rect x="316.10" y="355.26" width="21.90" height="21.62" fill="#a2d36c"/>
<rect x="316.10" y="355.26" width="21.90" height="21.62" fill="url(#hly)"/>
<rect x="316.10" y="355.26" width="21.90" height="21.62" fill="url(#hlx)"/>
<rect x="316.10" y="355.26" width="21.90" height="21.62" fill="none" stroke="#d4efb4" stroke-width="1.3"/>
<rect x="316.10" y="376.88" width="21.90" height="21.62" fill="#a2d36c"/>
<rect x="316.10" y="376.88" width="21.90" height="21.62" fill="url(#hly)"/>
<rect x="316.10" y="376.88" width="21.90" height="21.62" fill="url(#hlx)"/>
<rect x="316.10" y="376.88" width="21.90" height="21.62" fill="none" stroke="#d4efb4" stroke-width="1.3"/>
<rect x="316.10" y="398.50" width="21.90" height="21.62" fill="#a2d36c"/>
<rect x="316.10" y="398.50" width="21.90" height="21.62" fill="url(#hly)"/>
<rect x="316.10" y="398.50" width="21.90" height="21.62" fill="url(#hlx)"/>
<rect x="316.10" y="398.50" width="21.90" height="21.62" fill="none" stroke="#d4efb4" stroke-width="1.3"/>
<rect x="316.10" y="420.12" width="21.90" height="21.62" fill="#a2d36c"/>
<rect x="316.10" y="420.12" width="21.90" height="21.62" fill="url(#hly)"/>
<rect x="316.10" y="420.12" width="21.90" height="21.62" fill="url(#hlx)"/>
<rect x="316.10" y="420.12" width="21.90" height="21.62" fill="none" stroke="#d4efb4" stroke-width="1.3"/>
<rect x="338.00" y="355.26" width="21.90" height="21.62" fill="#a2d36c"/>
<rect x="338.00" y="355.26" width="21.90" height="21.62" fill="url(#hly)"/>
<rect x="338.00" y="355.26" width="21.90" height="21.62" fill="url(#hlx)"/>
<rect x="338.00" y="355.26" width="21.90" height="21.62" fill="none" stroke="#d4efb4" stroke-width="1.3"/>
<rect x="338.00" y="376.88" width="21.90" height="21.62" fill="#a2d36c"/>
<rect x="338.00" y="376.88" width="21.90" height="21.62" fill="url(#hly)"/>
<rect x="338.00" y="376.88" width="21.90" height="21.62" fill="url(#hlx)"/>
<rect x="338.00" y="376.88" width="21.90" height="21.62" fill="none" stroke="#d4efb4" stroke-width="1.3"/>
<rect x="338.00" y="398.50" width="21.90" height="21.62" fill="#a2d36c"/>
<rect x="338.00" y="398.50" width="21.90" height="21.62" fill="url(#hly)"/>
<rect x="338.00" y="398.50" width="21.90" height="21.62" fill="url(#hlx)"/>
<rect x="338.00" y="398.50" width="21.90" height="21.62" fill="none" stroke="#d4efb4" stroke-width="1.3"/>
<rect x="338.00" y="420.12" width="21.90" height="21.62" fill="#a2d36c"/>
<rect x="338.00" y="420.12" width="21.90" height="21.62" fill="url(#hly)"/>
<rect x="338.00" y="420.12" width="21.90" height="21.62" fill="url(#hlx)"/>
<rect x="338.00" y="420.12" width="21.90" height="21.62" fill="none" stroke="#d4efb4" stroke-width="1.3"/>
<rect x="359.90" y="355.26" width="21.90" height="21.62" fill="#a2d36c"/>
<rect x="359.90" y="355.26" width="21.90" height="21.62" fill="url(#hly)"/>
<rect x="359.90" y="355.26" width="21.90" height="21.62" fill="url(#hlx)"/>
<rect x="359.90" y="355.26" width="21.90" height="21.62" fill="none" stroke="#d4efb4" stroke-width="1.3"/>
<rect x="359.90" y="376.88" width="21.90" height="21.62" fill="#a2d36c"/>
<rect x="359.90" y="376.88" width="21.90" height="21.62" fill="url(#hly)"/>
<rect x="359.90" y="376.88" width="21.90" height="21.62" fill="url(#hlx)"/>
<rect x="359.90" y="376.88" width="21.90" height="21.62" fill="none" stroke="#d4efb4" stroke-width="1.3"/>
<rect x="359.90" y="398.50" width="21.90" height="21.62" fill="#a2d36c"/>
<rect x="359.90" y="398.50" width="21.90" height="21.62" fill="url(#hly)"/>
<rect x="359.90" y="398.50" width="21.90" height="21.62" fill="url(#hlx)"/>
<rect x="359.90" y="398.50" width="21.90" height="21.62" fill="none" stroke="#d4efb4" stroke-width="1.3"/>
<rect x="359.90" y="420.12" width="21.90" height="21.62" fill="#a2d36c"/>
<rect x="359.90" y="420.12" width="21.90" height="21.62" fill="url(#hly)"/>
<rect x="359.90" y="420.12" width="21.90" height="21.62" fill="url(#hlx)"/>
<rect x="359.90" y="420.12" width="21.90" height="21.62" fill="none" stroke="#d4efb4" stroke-width="1.3"/>
<rect x="381.80" y="312.02" width="21.90" height="21.62" fill="#ab9bd5"/>
<rect x="381.80" y="312.02" width="21.90" height="21.62" fill="url(#hly)"/>
<rect x="381.80" y="312.02" width="21.90" height="21.62" fill="url(#hlx)"/>
<rect x="381.80" y="312.02" width="21.90" height="21.62" fill="none" stroke="#ddd4ee" stroke-width="1.3"/>
<rect x="403.70" y="312.02" width="21.90" height="21.62" fill="#eeae66"/>
<rect x="403.70" y="312.02" width="21.90" height="21.62" fill="url(#hly)"/>
<rect x="403.70" y="312.02" width="21.90" height="21.62" fill="url(#hlx)"/>
<rect x="403.70" y="312.02" width="21.90" height="21.62" fill="none" stroke="#f6dcb4" stroke-width="1.3"/>
<rect x="425.60" y="312.02" width="21.90" height="21.62" fill="#eeae66"/>
<rect x="425.60" y="312.02" width="21.90" height="21.62" fill="url(#hly)"/>
<rect x="425.60" y="312.02" width="21.90" height="21.62" fill="url(#hlx)"/>
<rect x="425.60" y="312.02" width="21.90" height="21.62" fill="none" stroke="#f6dcb4" stroke-width="1.3"/>
<rect x="447.50" y="312.02" width="21.90" height="21.62" fill="#eeae66"/>
<rect x="447.50" y="312.02" width="21.90" height="21.62" fill="url(#hly)"/>
<rect x="447.50" y="312.02" width="21.90" height="21.62" fill="url(#hlx)"/>
<rect x="447.50" y="312.02" width="21.90" height="21.62" fill="none" stroke="#f6dcb4" stroke-width="1.3"/>
<rect x="469.40" y="312.02" width="21.90" height="21.62" fill="#eeae66"/>
<rect x="469.40" y="312.02" width="21.90" height="21.62" fill="url(#hly)"/>
<rect x="469.40" y="312.02" width="21.90" height="21.62" fill="url(#hlx)"/>
<rect x="469.40" y="312.02" width="21.90" height="21.62" fill="none" stroke="#f6dcb4" stroke-width="1.3"/>
<rect x="491.30" y="312.02" width="21.90" height="21.62" fill="#eeae66"/>
<rect x="491.30" y="312.02" width="21.90" height="21.62" fill="url(#hly)"/>
<rect x="491.30" y="312.02" width="21.90" height="21.62" fill="url(#hlx)"/>
<rect x="491.30" y="312.02" width="21.90" height="21.62" fill="none" stroke="#f6dcb4" stroke-width="1.3"/>
<rect x="381.80" y="333.64" width="21.90" height="21.62" fill="#a2d36c"/>
<rect x="381.80" y="333.64" width="21.90" height="21.62" fill="url(#hly)"/>
<rect x="381.80" y="333.64" width="21.90" height="21.62" fill="url(#hlx)"/>
<rect x="381.80" y="333.64" width="21.90" height="21.62" fill="none" stroke="#d4efb4" stroke-width="1.3"/>
<rect x="403.70" y="333.64" width="21.90" height="21.62" fill="#ab9bd5"/>
<rect x="403.70" y="333.64" width="21.90" height="21.62" fill="url(#hly)"/>
<rect x="403.70" y="333.64" width="21.90" height="21.62" fill="url(#hlx)"/>
<rect x="403.70" y="333.64" width="21.90" height="21.62" fill="none" stroke="#ddd4ee" stroke-width="1.3"/>
<rect x="425.60" y="333.64" width="21.90" height="21.62" fill="#eeae66"/>
<rect x="425.60" y="333.64" width="21.90" height="21.62" fill="url(#hly)"/>
<rect x="425.60" y="333.64" width="21.90" height="21.62" fill="url(#hlx)"/>
<rect x="425.60" y="333.64" width="21.90" height="21.62" fill="none" stroke="#f6dcb4" stroke-width="1.3"/>
<rect x="447.50" y="333.64" width="21.90" height="21.62" fill="#eeae66"/>
<rect x="447.50" y="333.64" width="21.90" height="21.62" fill="url(#hly)"/>
<rect x="447.50" y="333.64" width="21.90" height="21.62" fill="url(#hlx)"/>
<rect x="447.50" y="333.64" width="21.90" height="21.62" fill="none" stroke="#f6dcb4" stroke-width="1.3"/>
<rect x="469.40" y="333.64" width="21.90" height="21.62" fill="#eeae66"/>
<rect x="469.40" y="333.64" width="21.90" height="21.62" fill="url(#hly)"/>
<rect x="469.40" y="333.64" width="21.90" height="21.62" fill="url(#hlx)"/>
<rect x="469.40" y="333.64" width="21.90" height="21.62" fill="none" stroke="#f6dcb4" stroke-width="1.3"/>
<rect x="491.30" y="333.64" width="21.90" height="21.62" fill="#eeae66"/>
<rect x="491.30" y="333.64" width="21.90" height="21.62" fill="url(#hly)"/>
<rect x="491.30" y="333.64" width="21.90" height="21.62" fill="url(#hlx)"/>
<rect x="491.30" y="333.64" width="21.90" height="21.62" fill="none" stroke="#f6dcb4" stroke-width="1.3"/>
<rect x="381.80" y="355.26" width="21.90" height="21.62" fill="#a2d36c"/>
<rect x="381.80" y="355.26" width="21.90" height="21.62" fill="url(#hly)"/>
<rect x="381.80" y="355.26" width="21.90" height="21.62" fill="url(#hlx)"/>
<rect x="381.80" y="355.26" width="21.90" height="21.62" fill="none" stroke="#d4efb4" stroke-width="1.3"/>
<rect x="403.70" y="355.26" width="21.90" height="21.62" fill="#ab9bd5"/>
<rect x="403.70" y="355.26" width="21.90" height="21.62" fill="url(#hly)"/>
<rect x="403.70" y="355.26" width="21.90" height="21.62" fill="url(#hlx)"/>
<rect x="403.70" y="355.26" width="21.90" height="21.62" fill="none" stroke="#ddd4ee" stroke-width="1.3"/>
<rect x="425.60" y="355.26" width="21.90" height="21.62" fill="#ab9bd5"/>
<rect x="425.60" y="355.26" width="21.90" height="21.62" fill="url(#hly)"/>
<rect x="425.60" y="355.26" width="21.90" height="21.62" fill="url(#hlx)"/>
<rect x="425.60" y="355.26" width="21.90" height="21.62" fill="none" stroke="#ddd4ee" stroke-width="1.3"/>
<rect x="447.50" y="355.26" width="21.90" height="21.62" fill="#eeae66"/>
<rect x="447.50" y="355.26" width="21.90" height="21.62" fill="url(#hly)"/>
<rect x="447.50" y="355.26" width="21.90" height="21.62" fill="url(#hlx)"/>
<rect x="447.50" y="355.26" width="21.90" height="21.62" fill="none" stroke="#f6dcb4" stroke-width="1.3"/>
<rect x="469.40" y="355.26" width="21.90" height="21.62" fill="#eeae66"/>
<rect x="469.40" y="355.26" width="21.90" height="21.62" fill="url(#hly)"/>
<rect x="469.40" y="355.26" width="21.90" height="21.62" fill="url(#hlx)"/>
<rect x="469.40" y="355.26" width="21.90" height="21.62" fill="none" stroke="#f6dcb4" stroke-width="1.3"/>
<rect x="491.30" y="355.26" width="21.90" height="21.62" fill="#eeae66"/>
<rect x="491.30" y="355.26" width="21.90" height="21.62" fill="url(#hly)"/>
<rect x="491.30" y="355.26" width="21.90" height="21.62" fill="url(#hlx)"/>
<rect x="491.30" y="355.26" width="21.90" height="21.62" fill="none" stroke="#f6dcb4" stroke-width="1.3"/>
<rect x="381.80" y="376.88" width="21.90" height="21.62" fill="#a2d36c"/>
<rect x="381.80" y="376.88" width="21.90" height="21.62" fill="url(#hly)"/>
<rect x="381.80" y="376.88" width="21.90" height="21.62" fill="url(#hlx)"/>
<rect x="381.80" y="376.88" width="21.90" height="21.62" fill="none" stroke="#d4efb4" stroke-width="1.3"/>
<rect x="403.70" y="376.88" width="21.90" height="21.62" fill="#a2d36c"/>
<rect x="403.70" y="376.88" width="21.90" height="21.62" fill="url(#hly)"/>
<rect x="403.70" y="376.88" width="21.90" height="21.62" fill="url(#hlx)"/>
<rect x="403.70" y="376.88" width="21.90" height="21.62" fill="none" stroke="#d4efb4" stroke-width="1.3"/>
<rect x="425.60" y="376.88" width="21.90" height="21.62" fill="#ab9bd5"/>
<rect x="425.60" y="376.88" width="21.90" height="21.62" fill="url(#hly)"/>
<rect x="425.60" y="376.88" width="21.90" height="21.62" fill="url(#hlx)"/>
<rect x="425.60" y="376.88" width="21.90" height="21.62" fill="none" stroke="#ddd4ee" stroke-width="1.3"/>
<rect x="447.50" y="376.88" width="21.90" height="21.62" fill="#ab9bd5"/>
<rect x="447.50" y="376.88" width="21.90" height="21.62" fill="url(#hly)"/>
<rect x="447.50" y="376.88" width="21.90" height="21.62" fill="url(#hlx)"/>
<rect x="447.50" y="376.88" width="21.90" height="21.62" fill="none" stroke="#ddd4ee" stroke-width="1.3"/>
<rect x="469.40" y="376.88" width="21.90" height="21.62" fill="#eeae66"/>
<rect x="469.40" y="376.88" width="21.90" height="21.62" fill="url(#hly)"/>
<rect x="469.40" y="376.88" width="21.90" height="21.62" fill="url(#hlx)"/>
<rect x="469.40" y="376.88" width="21.90" height="21.62" fill="none" stroke="#f6dcb4" stroke-width="1.3"/>
<rect x="491.30" y="376.88" width="21.90" height="21.62" fill="#eeae66"/>
<rect x="491.30" y="376.88" width="21.90" height="21.62" fill="url(#hly)"/>
<rect x="491.30" y="376.88" width="21.90" height="21.62" fill="url(#hlx)"/>
<rect x="491.30" y="376.88" width="21.90" height="21.62" fill="none" stroke="#f6dcb4" stroke-width="1.3"/>
<rect x="381.80" y="398.50" width="21.90" height="21.62" fill="#a2d36c"/>
<rect x="381.80" y="398.50" width="21.90" height="21.62" fill="url(#hly)"/>
<rect x="381.80" y="398.50" width="21.90" height="21.62" fill="url(#hlx)"/>
<rect x="381.80" y="398.50" width="21.90" height="21.62" fill="none" stroke="#d4efb4" stroke-width="1.3"/>
<rect x="403.70" y="398.50" width="21.90" height="21.62" fill="#a2d36c"/>
<rect x="403.70" y="398.50" width="21.90" height="21.62" fill="url(#hly)"/>
<rect x="403.70" y="398.50" width="21.90" height="21.62" fill="url(#hlx)"/>
<rect x="403.70" y="398.50" width="21.90" height="21.62" fill="none" stroke="#d4efb4" stroke-width="1.3"/>
<rect x="425.60" y="398.50" width="21.90" height="21.62" fill="#a2d36c"/>
<rect x="425.60" y="398.50" width="21.90" height="21.62" fill="url(#hly)"/>
<rect x="425.60" y="398.50" width="21.90" height="21.62" fill="url(#hlx)"/>
<rect x="425.60" y="398.50" width="21.90" height="21.62" fill="none" stroke="#d4efb4" stroke-width="1.3"/>
<rect x="447.50" y="398.50" width="21.90" height="21.62" fill="#a2d36c"/>
<rect x="447.50" y="398.50" width="21.90" height="21.62" fill="url(#hly)"/>
<rect x="447.50" y="398.50" width="21.90" height="21.62" fill="url(#hlx)"/>
<rect x="447.50" y="398.50" width="21.90" height="21.62" fill="none" stroke="#d4efb4" stroke-width="1.3"/>
<rect x="469.40" y="398.50" width="21.90" height="21.62" fill="#ab9bd5"/>
<rect x="469.40" y="398.50" width="21.90" height="21.62" fill="url(#hly)"/>
<rect x="469.40" y="398.50" width="21.90" height="21.62" fill="url(#hlx)"/>
<rect x="469.40" y="398.50" width="21.90" height="21.62" fill="none" stroke="#ddd4ee" stroke-width="1.3"/>
<rect x="491.30" y="398.50" width="21.90" height="21.62" fill="#eeae66"/>
<rect x="491.30" y="398.50" width="21.90" height="21.62" fill="url(#hly)"/>
<rect x="491.30" y="398.50" width="21.90" height="21.62" fill="url(#hlx)"/>
<rect x="491.30" y="398.50" width="21.90" height="21.62" fill="none" stroke="#f6dcb4" stroke-width="1.3"/>
<rect x="200.60" y="458.00" width="27.10" height="26.70" rx="1.5" fill="#b2cf84"/>
<rect x="200.60" y="479.50" width="27.10" height="26.70" rx="1.5" fill="#b2cf84"/>
<rect x="222.50" y="458.00" width="27.10" height="26.70" rx="1.5" fill="#b2cf84"/>
<rect x="222.50" y="479.50" width="27.10" height="26.70" rx="1.5" fill="#b2cf84"/>
<rect x="244.40" y="458.00" width="27.10" height="26.70" rx="1.5" fill="#b2cf84"/>
<rect x="244.40" y="479.50" width="27.10" height="26.70" rx="1.5" fill="#b2cf84"/>
<rect x="266.30" y="458.00" width="27.10" height="26.70" rx="1.5" fill="#b2cf84"/>
<rect x="266.30" y="479.50" width="27.10" height="26.70" rx="1.5" fill="#b2cf84"/>
<rect x="288.20" y="458.00" width="27.10" height="26.70" rx="1.5" fill="#b2cf84"/>
<rect x="288.20" y="479.50" width="27.10" height="26.70" rx="1.5" fill="#b2cf84"/>
<rect x="310.10" y="458.00" width="27.10" height="26.70" rx="1.5" fill="#b2cf84"/>
<rect x="310.10" y="479.50" width="27.10" height="26.70" rx="1.5" fill="#b2cf84"/>
<rect x="332.00" y="458.00" width="27.10" height="26.70" rx="1.5" fill="#b2cf84"/>
<rect x="332.00" y="479.50" width="27.10" height="26.70" rx="1.5" fill="#b2cf84"/>
<rect x="353.90" y="458.00" width="27.10" height="26.70" rx="1.5" fill="#b2cf84"/>
<rect x="353.90" y="479.50" width="27.10" height="26.70" rx="1.5" fill="#b2cf84"/>
<rect x="375.80" y="458.00" width="27.10" height="26.70" rx="1.5" fill="#b2cf84"/>
<rect x="375.80" y="479.50" width="27.10" height="26.70" rx="1.5" fill="#b2cf84"/>
<rect x="397.70" y="458.00" width="27.10" height="26.70" rx="1.5" fill="#b2cf84"/>
<rect x="397.70" y="479.50" width="27.10" height="26.70" rx="1.5" fill="#b2cf84"/>
<rect x="419.60" y="458.00" width="27.10" height="26.70" rx="1.5" fill="#b2cf84"/>
<rect x="419.60" y="479.50" width="27.10" height="26.70" rx="1.5" fill="#b2cf84"/>
<rect x="441.50" y="458.00" width="27.10" height="26.70" rx="1.5" fill="#b2cf84"/>
<rect x="441.50" y="479.50" width="27.10" height="26.70" rx="1.5" fill="#b2cf84"/>
<rect x="463.40" y="458.00" width="27.10" height="26.70" rx="1.5" fill="#b2cf84"/>
<rect x="463.40" y="479.50" width="27.10" height="26.70" rx="1.5" fill="#b2cf84"/>
<rect x="485.30" y="458.00" width="27.10" height="26.70" rx="1.5" fill="#b2cf84"/>
<rect x="485.30" y="479.50" width="27.10" height="26.70" rx="1.5" fill="#b2cf84"/>
<g fill="none" stroke="#a2ab96" stroke-width="1.0">
<line x1="201.10" y1="458.70" x2="201.10" y2="484.20"/>
<line x1="201.10" y1="480.20" x2="201.10" y2="505.70"/>
<line x1="201.10" y1="505.70" x2="227.70" y2="505.70"/>
<line x1="223.00" y1="505.70" x2="249.60" y2="505.70"/>
<line x1="244.90" y1="505.70" x2="271.50" y2="505.70"/>
<line x1="266.80" y1="505.70" x2="293.40" y2="505.70"/>
<line x1="288.70" y1="505.70" x2="315.30" y2="505.70"/>
<line x1="310.60" y1="505.70" x2="337.20" y2="505.70"/>
<line x1="332.50" y1="505.70" x2="359.10" y2="505.70"/>
<line x1="354.40" y1="505.70" x2="381.00" y2="505.70"/>
<line x1="376.30" y1="505.70" x2="402.90" y2="505.70"/>
<line x1="398.20" y1="505.70" x2="424.80" y2="505.70"/>
<line x1="420.10" y1="505.70" x2="446.70" y2="505.70"/>
<line x1="442.00" y1="505.70" x2="468.60" y2="505.70"/>
<line x1="463.90" y1="505.70" x2="490.50" y2="505.70"/>
<line x1="485.80" y1="505.70" x2="512.40" y2="505.70"/>
</g>
<rect x="206.60" y="457.20" width="21.90" height="21.50" fill="#a2d36c"/>
<rect x="206.60" y="457.20" width="21.90" height="21.50" fill="url(#hly)"/>
<rect x="206.60" y="457.20" width="21.90" height="21.50" fill="url(#hlx)"/>
<rect x="206.60" y="457.20" width="21.90" height="21.50" fill="none" stroke="#d4efb4" stroke-width="1.3"/>
<rect x="206.60" y="478.70" width="21.90" height="21.50" fill="#a2d36c"/>
<rect x="206.60" y="478.70" width="21.90" height="21.50" fill="url(#hly)"/>
<rect x="206.60" y="478.70" width="21.90" height="21.50" fill="url(#hlx)"/>
<rect x="206.60" y="478.70" width="21.90" height="21.50" fill="none" stroke="#d4efb4" stroke-width="1.3"/>
<rect x="228.50" y="457.20" width="21.90" height="21.50" fill="#a2d36c"/>
<rect x="228.50" y="457.20" width="21.90" height="21.50" fill="url(#hly)"/>
<rect x="228.50" y="457.20" width="21.90" height="21.50" fill="url(#hlx)"/>
<rect x="228.50" y="457.20" width="21.90" height="21.50" fill="none" stroke="#d4efb4" stroke-width="1.3"/>
<rect x="228.50" y="478.70" width="21.90" height="21.50" fill="#a2d36c"/>
<rect x="228.50" y="478.70" width="21.90" height="21.50" fill="url(#hly)"/>
<rect x="228.50" y="478.70" width="21.90" height="21.50" fill="url(#hlx)"/>
<rect x="228.50" y="478.70" width="21.90" height="21.50" fill="none" stroke="#d4efb4" stroke-width="1.3"/>
<rect x="250.40" y="457.20" width="21.90" height="21.50" fill="#a2d36c"/>
<rect x="250.40" y="457.20" width="21.90" height="21.50" fill="url(#hly)"/>
<rect x="250.40" y="457.20" width="21.90" height="21.50" fill="url(#hlx)"/>
<rect x="250.40" y="457.20" width="21.90" height="21.50" fill="none" stroke="#d4efb4" stroke-width="1.3"/>
<rect x="250.40" y="478.70" width="21.90" height="21.50" fill="#a2d36c"/>
<rect x="250.40" y="478.70" width="21.90" height="21.50" fill="url(#hly)"/>
<rect x="250.40" y="478.70" width="21.90" height="21.50" fill="url(#hlx)"/>
<rect x="250.40" y="478.70" width="21.90" height="21.50" fill="none" stroke="#d4efb4" stroke-width="1.3"/>
<rect x="272.30" y="457.20" width="21.90" height="21.50" fill="#a2d36c"/>
<rect x="272.30" y="457.20" width="21.90" height="21.50" fill="url(#hly)"/>
<rect x="272.30" y="457.20" width="21.90" height="21.50" fill="url(#hlx)"/>
<rect x="272.30" y="457.20" width="21.90" height="21.50" fill="none" stroke="#d4efb4" stroke-width="1.3"/>
<rect x="272.30" y="478.70" width="21.90" height="21.50" fill="#a2d36c"/>
<rect x="272.30" y="478.70" width="21.90" height="21.50" fill="url(#hly)"/>
<rect x="272.30" y="478.70" width="21.90" height="21.50" fill="url(#hlx)"/>
<rect x="272.30" y="478.70" width="21.90" height="21.50" fill="none" stroke="#d4efb4" stroke-width="1.3"/>
<rect x="294.20" y="457.20" width="21.90" height="21.50" fill="#a2d36c"/>
<rect x="294.20" y="457.20" width="21.90" height="21.50" fill="url(#hly)"/>
<rect x="294.20" y="457.20" width="21.90" height="21.50" fill="url(#hlx)"/>
<rect x="294.20" y="457.20" width="21.90" height="21.50" fill="none" stroke="#d4efb4" stroke-width="1.3"/>
<rect x="294.20" y="478.70" width="21.90" height="21.50" fill="#a2d36c"/>
<rect x="294.20" y="478.70" width="21.90" height="21.50" fill="url(#hly)"/>
<rect x="294.20" y="478.70" width="21.90" height="21.50" fill="url(#hlx)"/>
<rect x="294.20" y="478.70" width="21.90" height="21.50" fill="none" stroke="#d4efb4" stroke-width="1.3"/>
<rect x="316.10" y="457.20" width="21.90" height="21.50" fill="#a2d36c"/>
<rect x="316.10" y="457.20" width="21.90" height="21.50" fill="url(#hly)"/>
<rect x="316.10" y="457.20" width="21.90" height="21.50" fill="url(#hlx)"/>
<rect x="316.10" y="457.20" width="21.90" height="21.50" fill="none" stroke="#d4efb4" stroke-width="1.3"/>
<rect x="316.10" y="478.70" width="21.90" height="21.50" fill="#a2d36c"/>
<rect x="316.10" y="478.70" width="21.90" height="21.50" fill="url(#hly)"/>
<rect x="316.10" y="478.70" width="21.90" height="21.50" fill="url(#hlx)"/>
<rect x="316.10" y="478.70" width="21.90" height="21.50" fill="none" stroke="#d4efb4" stroke-width="1.3"/>
<rect x="338.00" y="457.20" width="21.90" height="21.50" fill="#a2d36c"/>
<rect x="338.00" y="457.20" width="21.90" height="21.50" fill="url(#hly)"/>
<rect x="338.00" y="457.20" width="21.90" height="21.50" fill="url(#hlx)"/>
<rect x="338.00" y="457.20" width="21.90" height="21.50" fill="none" stroke="#d4efb4" stroke-width="1.3"/>
<rect x="338.00" y="478.70" width="21.90" height="21.50" fill="#a2d36c"/>
<rect x="338.00" y="478.70" width="21.90" height="21.50" fill="url(#hly)"/>
<rect x="338.00" y="478.70" width="21.90" height="21.50" fill="url(#hlx)"/>
<rect x="338.00" y="478.70" width="21.90" height="21.50" fill="none" stroke="#d4efb4" stroke-width="1.3"/>
<rect x="359.90" y="457.20" width="21.90" height="21.50" fill="#a2d36c"/>
<rect x="359.90" y="457.20" width="21.90" height="21.50" fill="url(#hly)"/>
<rect x="359.90" y="457.20" width="21.90" height="21.50" fill="url(#hlx)"/>
<rect x="359.90" y="457.20" width="21.90" height="21.50" fill="none" stroke="#d4efb4" stroke-width="1.3"/>
<rect x="359.90" y="478.70" width="21.90" height="21.50" fill="#a2d36c"/>
<rect x="359.90" y="478.70" width="21.90" height="21.50" fill="url(#hly)"/>
<rect x="359.90" y="478.70" width="21.90" height="21.50" fill="url(#hlx)"/>
<rect x="359.90" y="478.70" width="21.90" height="21.50" fill="none" stroke="#d4efb4" stroke-width="1.3"/>
<rect x="381.80" y="457.20" width="21.90" height="21.50" fill="#a2d36c"/>
<rect x="381.80" y="457.20" width="21.90" height="21.50" fill="url(#hly)"/>
<rect x="381.80" y="457.20" width="21.90" height="21.50" fill="url(#hlx)"/>
<rect x="381.80" y="457.20" width="21.90" height="21.50" fill="none" stroke="#d4efb4" stroke-width="1.3"/>
<rect x="381.80" y="478.70" width="21.90" height="21.50" fill="#a2d36c"/>
<rect x="381.80" y="478.70" width="21.90" height="21.50" fill="url(#hly)"/>
<rect x="381.80" y="478.70" width="21.90" height="21.50" fill="url(#hlx)"/>
<rect x="381.80" y="478.70" width="21.90" height="21.50" fill="none" stroke="#d4efb4" stroke-width="1.3"/>
<rect x="403.70" y="457.20" width="21.90" height="21.50" fill="#a2d36c"/>
<rect x="403.70" y="457.20" width="21.90" height="21.50" fill="url(#hly)"/>
<rect x="403.70" y="457.20" width="21.90" height="21.50" fill="url(#hlx)"/>
<rect x="403.70" y="457.20" width="21.90" height="21.50" fill="none" stroke="#d4efb4" stroke-width="1.3"/>
<rect x="403.70" y="478.70" width="21.90" height="21.50" fill="#a2d36c"/>
<rect x="403.70" y="478.70" width="21.90" height="21.50" fill="url(#hly)"/>
<rect x="403.70" y="478.70" width="21.90" height="21.50" fill="url(#hlx)"/>
<rect x="403.70" y="478.70" width="21.90" height="21.50" fill="none" stroke="#d4efb4" stroke-width="1.3"/>
<rect x="425.60" y="457.20" width="21.90" height="21.50" fill="#a2d36c"/>
<rect x="425.60" y="457.20" width="21.90" height="21.50" fill="url(#hly)"/>
<rect x="425.60" y="457.20" width="21.90" height="21.50" fill="url(#hlx)"/>
<rect x="425.60" y="457.20" width="21.90" height="21.50" fill="none" stroke="#d4efb4" stroke-width="1.3"/>
<rect x="425.60" y="478.70" width="21.90" height="21.50" fill="#a2d36c"/>
<rect x="425.60" y="478.70" width="21.90" height="21.50" fill="url(#hly)"/>
<rect x="425.60" y="478.70" width="21.90" height="21.50" fill="url(#hlx)"/>
<rect x="425.60" y="478.70" width="21.90" height="21.50" fill="none" stroke="#d4efb4" stroke-width="1.3"/>
<rect x="447.50" y="457.20" width="21.90" height="21.50" fill="#a2d36c"/>
<rect x="447.50" y="457.20" width="21.90" height="21.50" fill="url(#hly)"/>
<rect x="447.50" y="457.20" width="21.90" height="21.50" fill="url(#hlx)"/>
<rect x="447.50" y="457.20" width="21.90" height="21.50" fill="none" stroke="#d4efb4" stroke-width="1.3"/>
<rect x="447.50" y="478.70" width="21.90" height="21.50" fill="#a2d36c"/>
<rect x="447.50" y="478.70" width="21.90" height="21.50" fill="url(#hly)"/>
<rect x="447.50" y="478.70" width="21.90" height="21.50" fill="url(#hlx)"/>
<rect x="447.50" y="478.70" width="21.90" height="21.50" fill="none" stroke="#d4efb4" stroke-width="1.3"/>
<rect x="469.40" y="457.20" width="21.90" height="21.50" fill="#a2d36c"/>
<rect x="469.40" y="457.20" width="21.90" height="21.50" fill="url(#hly)"/>
<rect x="469.40" y="457.20" width="21.90" height="21.50" fill="url(#hlx)"/>
<rect x="469.40" y="457.20" width="21.90" height="21.50" fill="none" stroke="#d4efb4" stroke-width="1.3"/>
<rect x="469.40" y="478.70" width="21.90" height="21.50" fill="#a2d36c"/>
<rect x="469.40" y="478.70" width="21.90" height="21.50" fill="url(#hly)"/>
<rect x="469.40" y="478.70" width="21.90" height="21.50" fill="url(#hlx)"/>
<rect x="469.40" y="478.70" width="21.90" height="21.50" fill="none" stroke="#d4efb4" stroke-width="1.3"/>
<rect x="491.30" y="457.20" width="21.90" height="21.50" fill="#a2d36c"/>
<rect x="491.30" y="457.20" width="21.90" height="21.50" fill="url(#hly)"/>
<rect x="491.30" y="457.20" width="21.90" height="21.50" fill="url(#hlx)"/>
<rect x="491.30" y="457.20" width="21.90" height="21.50" fill="none" stroke="#d4efb4" stroke-width="1.3"/>
<rect x="491.30" y="478.70" width="21.90" height="21.50" fill="#a2d36c"/>
<rect x="491.30" y="478.70" width="21.90" height="21.50" fill="url(#hly)"/>
<rect x="491.30" y="478.70" width="21.90" height="21.50" fill="url(#hlx)"/>
<rect x="491.30" y="478.70" width="21.90" height="21.50" fill="none" stroke="#d4efb4" stroke-width="1.3"/>
<text x="108.4" y="299.7" font-size="8.2" text-anchor="middle" font-family="Liberation Sans" font-weight="bold" fill="#262626" stroke="#262626" stroke-width="0.35">1</text>
<text x="108.4" y="326.3" font-size="8.2" text-anchor="middle" font-family="Liberation Sans" font-weight="bold" fill="#262626" stroke="#262626" stroke-width="0.35">2</text>
<text x="108.4" y="348.8" font-size="8.2" text-anchor="middle" font-family="Liberation Sans" font-weight="bold" fill="#262626" stroke="#262626" stroke-width="0.35">3</text>
<text x="108.4" y="370.8" font-size="8.2" text-anchor="middle" font-family="Liberation Sans" font-weight="bold" fill="#262626" stroke="#262626" stroke-width="0.35">4</text>
<text x="108.4" y="393.0" font-size="8.2" text-anchor="middle" font-family="Liberation Sans" font-weight="bold" fill="#262626" stroke="#262626" stroke-width="0.35">5</text>
<text x="108.4" y="415.4" font-size="8.2" text-anchor="middle" font-family="Liberation Sans" font-weight="bold" fill="#262626" stroke="#262626" stroke-width="0.35">6</text>
<text x="108.4" y="437.7" font-size="8.2" text-anchor="middle" font-family="Liberation Sans" font-weight="bold" fill="#262626" stroke="#262626" stroke-width="0.35">7</text>
<text x="129.2" y="281.3" font-size="8.2" text-anchor="middle" font-family="Liberation Sans" font-weight="bold" fill="#262626" stroke="#262626" stroke-width="0.35">1</text>
<text x="150.8" y="309.3" font-size="8.2" text-anchor="middle" font-family="Liberation Sans" font-weight="bold" fill="#262626" stroke="#262626" stroke-width="0.35">2</text>
<text x="173.2" y="353.5" font-size="8.2" text-anchor="middle" font-family="Liberation Sans" font-weight="bold" fill="#262626" stroke="#262626" stroke-width="0.35">3</text>
<text x="195.1" y="353.5" font-size="8.2" text-anchor="middle" font-family="Liberation Sans" font-weight="bold" fill="#262626" stroke="#262626" stroke-width="0.35">4</text>
<text x="217.0" y="353.5" font-size="8.2" text-anchor="middle" font-family="Liberation Sans" font-weight="bold" fill="#262626" stroke="#262626" stroke-width="0.35">5</text>
<text x="238.9" y="353.5" font-size="8.2" text-anchor="middle" font-family="Liberation Sans" font-weight="bold" fill="#262626" stroke="#262626" stroke-width="0.35">6</text>
<text x="260.8" y="353.5" font-size="8.2" text-anchor="middle" font-family="Liberation Sans" font-weight="bold" fill="#262626" stroke="#262626" stroke-width="0.35">7</text>
<text x="282.7" y="353.5" font-size="8.2" text-anchor="middle" font-family="Liberation Sans" font-weight="bold" fill="#262626" stroke="#262626" stroke-width="0.35">8</text>
<text x="304.6" y="353.5" font-size="8.2" text-anchor="middle" font-family="Liberation Sans" font-weight="bold" fill="#262626" stroke="#262626" stroke-width="0.35">9</text>
<text x="326.6" y="353.5" font-size="8.2" text-anchor="middle" font-family="Liberation Sans" font-weight="bold" fill="#262626" stroke="#262626" stroke-width="0.35">10</text>
<text x="348.4" y="353.5" font-size="8.2" text-anchor="middle" font-family="Liberation Sans" font-weight="bold" fill="#262626" stroke="#262626" stroke-width="0.35">11</text>
<text x="370.3" y="353.5" font-size="8.2" text-anchor="middle" font-family="Liberation Sans" font-weight="bold" fill="#262626" stroke="#262626" stroke-width="0.35">12</text>
<text x="393.5" y="310.5" font-size="8.2" text-anchor="middle" font-family="Liberation Sans" font-weight="bold" fill="#262626" stroke="#262626" stroke-width="0.35">13</text>
<text x="414.2" y="310.5" font-size="8.2" text-anchor="middle" font-family="Liberation Sans" font-weight="bold" fill="#262626" stroke="#262626" stroke-width="0.35">14</text>
<text x="436.5" y="310.5" font-size="8.2" text-anchor="middle" font-family="Liberation Sans" font-weight="bold" fill="#262626" stroke="#262626" stroke-width="0.35">15</text>
<text x="458.4" y="310.5" font-size="8.2" text-anchor="middle" font-family="Liberation Sans" font-weight="bold" fill="#262626" stroke="#262626" stroke-width="0.35">16</text>
<text x="480.0" y="310.5" font-size="8.2" text-anchor="middle" font-family="Liberation Sans" font-weight="bold" fill="#262626" stroke="#262626" stroke-width="0.35">17</text>
<text x="504.0" y="288.8" font-size="8.2" text-anchor="middle" font-family="Liberation Sans" font-weight="bold" fill="#262626" stroke="#262626" stroke-width="0.35">18</text>
<line x1="270.2" y1="325.6" x2="206.3" y2="397.2" stroke="#2a3620" stroke-width="1.25"/><circle cx="206.3" cy="397.2" r="1.8" fill="#111"/>
<line x1="441.8" y1="280.6" x2="469.7" y2="355.2" stroke="#2a3620" stroke-width="1.25"/><circle cx="469.7" cy="355.2" r="1.8" fill="#111"/>
<line x1="437.4" y1="434.7" x2="427.4" y2="366.7" stroke="#2a3620" stroke-width="1.25"/><circle cx="427.4" cy="367.5" r="1.6" fill="#111"/>
<text x="243.7" y="322.4" font-size="13.4" textLength="45.7" lengthAdjust="spacingAndGlyphs" font-family="Liberation Sans" font-weight="bold" fill="#1a1a1a" stroke="#1a1a1a" stroke-width="0.6">Metals</text>
<text x="405.3" y="276.5" font-size="12.8" textLength="73" lengthAdjust="spacingAndGlyphs" font-family="Liberation Sans" font-weight="bold" fill="#1a1a1a" stroke="#1a1a1a" stroke-width="0.6">Nonmetals</text>
<text x="403.0" y="447.5" font-size="13.2" textLength="71" lengthAdjust="spacingAndGlyphs" font-family="Liberation Sans" font-weight="bold" fill="#1a1a1a" stroke="#1a1a1a" stroke-width="0.6">Metalloids</text>
<line x1="127.50" y1="434.00" x2="127.50" y2="317.00" stroke="#f2f9e2" stroke-width="2.8" stroke-linecap="butt" fill="none"/><polygon points="127.50,309.00 131.70,318.00 123.30,318.00" fill="#f2f9e2"/>
<line x1="130.00" y1="428.00" x2="480.97" y2="317.40" stroke="#f2f9e2" stroke-width="2.8" stroke-linecap="butt" fill="none"/><polygon points="488.60,315.00 481.28,321.71 478.75,313.70" fill="#f2f9e2"/>
<line x1="175.80" y1="426.30" x2="365.90" y2="426.40" stroke="#f2f9e2" stroke-width="2.8" stroke-linecap="butt" fill="none"/><polygon points="373.90,426.40 364.90,430.60 364.90,422.20" fill="#f2f9e2"/>
</g>
<path d="M69.90,23.30H79.60V63.80H69.90Z M95.00,23.30 H100.00 A9.50,9.50 0 0 1 109.50,32.80 V54.30 A9.50,9.50 0 0 1 100.00,63.80 H95.00 A9.50,9.50 0 0 1 85.50,54.30 V32.80 A9.50,9.50 0 0 1 95.00,23.30ZM97.55,29.50 A2.05,2.05 0 0 0 95.50,31.55 V56.15 A2.05,2.05 0 0 0 97.55,58.20 H97.55 A2.05,2.05 0 0 0 99.60,56.15 V31.55 A2.05,2.05 0 0 0 97.55,29.50 Z M115.00,23.30 L123.80,23.30 L130.40,44.30 L130.40,23.30 L138.00,23.30 L138.00,63.80 L128.60,63.80 L122.00,42.30 L122.00,63.80 L115.00,63.80Z M144.20,23.30H154.30V63.80H144.20Z M159.70,23.30 L177.50,23.30 L177.50,30.80 L169.60,56.20 L177.50,56.20 L177.50,63.80 L158.60,63.80 L158.60,56.20 L167.30,31.20 L159.70,31.20Z M185.60,23.30 L200.90,23.30 L205.50,63.80 L198.60,63.80 L197.60,53.30 L191.20,53.30 L190.20,63.80 L181.40,63.80ZM193.90,31.90 L191.10,49.10 L196.70,49.10Z M205.60,23.30 L228.20,23.30 L228.20,31.40 L222.20,31.40 L222.20,63.80 L212.00,63.80 L212.00,31.40 L205.60,31.40Z M232.70,23.30H242.70V63.80H232.70Z M258.50,23.30 H262.80 A9.50,9.50 0 0 1 272.30,32.80 V54.30 A9.50,9.50 0 0 1 262.80,63.80 H258.50 A9.50,9.50 0 0 1 249.00,54.30 V32.80 A9.50,9.50 0 0 1 258.50,23.30ZM260.30,29.50 A2.30,2.30 0 0 0 258.00,31.80 V55.90 A2.30,2.30 0 0 0 260.30,58.20 H260.30 A2.30,2.30 0 0 0 262.60,55.90 V31.80 A2.30,2.30 0 0 0 260.30,29.50 Z M277.90,23.30 L286.70,23.30 L293.50,44.30 L293.50,23.30 L301.10,23.30 L301.10,63.80 L291.70,63.80 L284.90,42.30 L284.90,63.80 L277.90,63.80Z M317.50,23.30 L333.90,23.30 L333.90,32.30 L328.00,32.30 L328.00,39.00 L332.90,39.00 L332.90,47.30 L328.00,47.30 L328.00,54.60 L333.90,54.60 L333.90,63.80 L317.50,63.80Z M340.50,23.30 L349.30,23.30 L355.50,44.30 L355.50,23.30 L363.10,23.30 L363.10,63.80 L353.70,63.80 L347.50,42.30 L347.50,63.80 L340.50,63.80Z M369.40,23.30 L386.00,23.30 L386.00,32.30 L379.90,32.30 L379.90,39.00 L385.00,39.00 L385.00,47.30 L379.90,47.30 L379.90,54.60 L386.00,54.60 L386.00,63.80 L369.40,63.80Z M392.30,23.30 L408.00,23.30 L411.30,24.20 L413.50,26.50 L414.20,29.80 L414.20,38.80 L413.30,41.80 L411.30,43.90 L413.50,45.50 L414.50,48.30 L414.50,63.80 L406.40,63.80 L406.40,48.80 L405.70,45.80 L404.20,44.60 L402.50,44.60 L402.50,63.80 L392.30,63.80ZM404.00,29.40 A1.50,1.50 0 0 0 402.50,30.90 V39.00 A1.50,1.50 0 0 0 404.00,40.50 H405.00 A1.50,1.50 0 0 0 406.50,39.00 V30.90 A1.50,1.50 0 0 0 405.00,29.40 Z M428.20,23.30 H437.90 A7.00,7.00 0 0 1 444.90,30.30 V56.80 A7.00,7.00 0 0 1 437.90,63.80 H428.20 A7.00,7.00 0 0 1 421.20,56.80 V30.30 A7.00,7.00 0 0 1 428.20,23.30ZM430.90,31.90 L430.90,58.10 L435.10,58.10 L435.10,42.60 L445.40,42.60 L445.40,37.20 L435.10,37.20 L435.10,31.90 L434.10,30.10 L433.00,29.60 L431.90,30.10ZM433.20,42.60H435.40V58.10H433.20Z M448.20,23.30 L456.70,23.30 L460.20,37.00 L463.30,23.30 L472.10,23.30 L465.90,47.00 L465.90,63.80 L455.70,63.80 L455.70,47.00Z" fill="#0e0c33" fill-rule="nonzero"/>
<g font-family="Liberation Sans" fill="#727272">
<text x="76.8" y="150.6" font-size="24" textLength="116.7" lengthAdjust="spacingAndGlyphs">Decreases</text>
<text x="200.7" y="150.6" font-size="24" textLength="62.8" lengthAdjust="spacingAndGlyphs">down</text>
<text x="271.5" y="150.6" font-size="24" textLength="12.0" lengthAdjust="spacingAndGlyphs">a</text>
<text x="290.7" y="150.6" font-size="24" textLength="67.0" lengthAdjust="spacingAndGlyphs">group</text>
<text x="76.8" y="193.8" font-size="24" textLength="102.5" lengthAdjust="spacingAndGlyphs">Increases</text>
<text x="187.3" y="193.8" font-size="24" textLength="70.2" lengthAdjust="spacingAndGlyphs">across</text>
<text x="265.5" y="193.8" font-size="24" textLength="12.0" lengthAdjust="spacingAndGlyphs">a</text>
<text x="286.5" y="193.8" font-size="24" textLength="73.5" lengthAdjust="spacingAndGlyphs">period</text>
</g>
<circle cx="63.0" cy="141.0" r="3.0" fill="#222"/>
<circle cx="63.0" cy="184.8" r="3.0" fill="#222"/>
</svg>
</body></html>
